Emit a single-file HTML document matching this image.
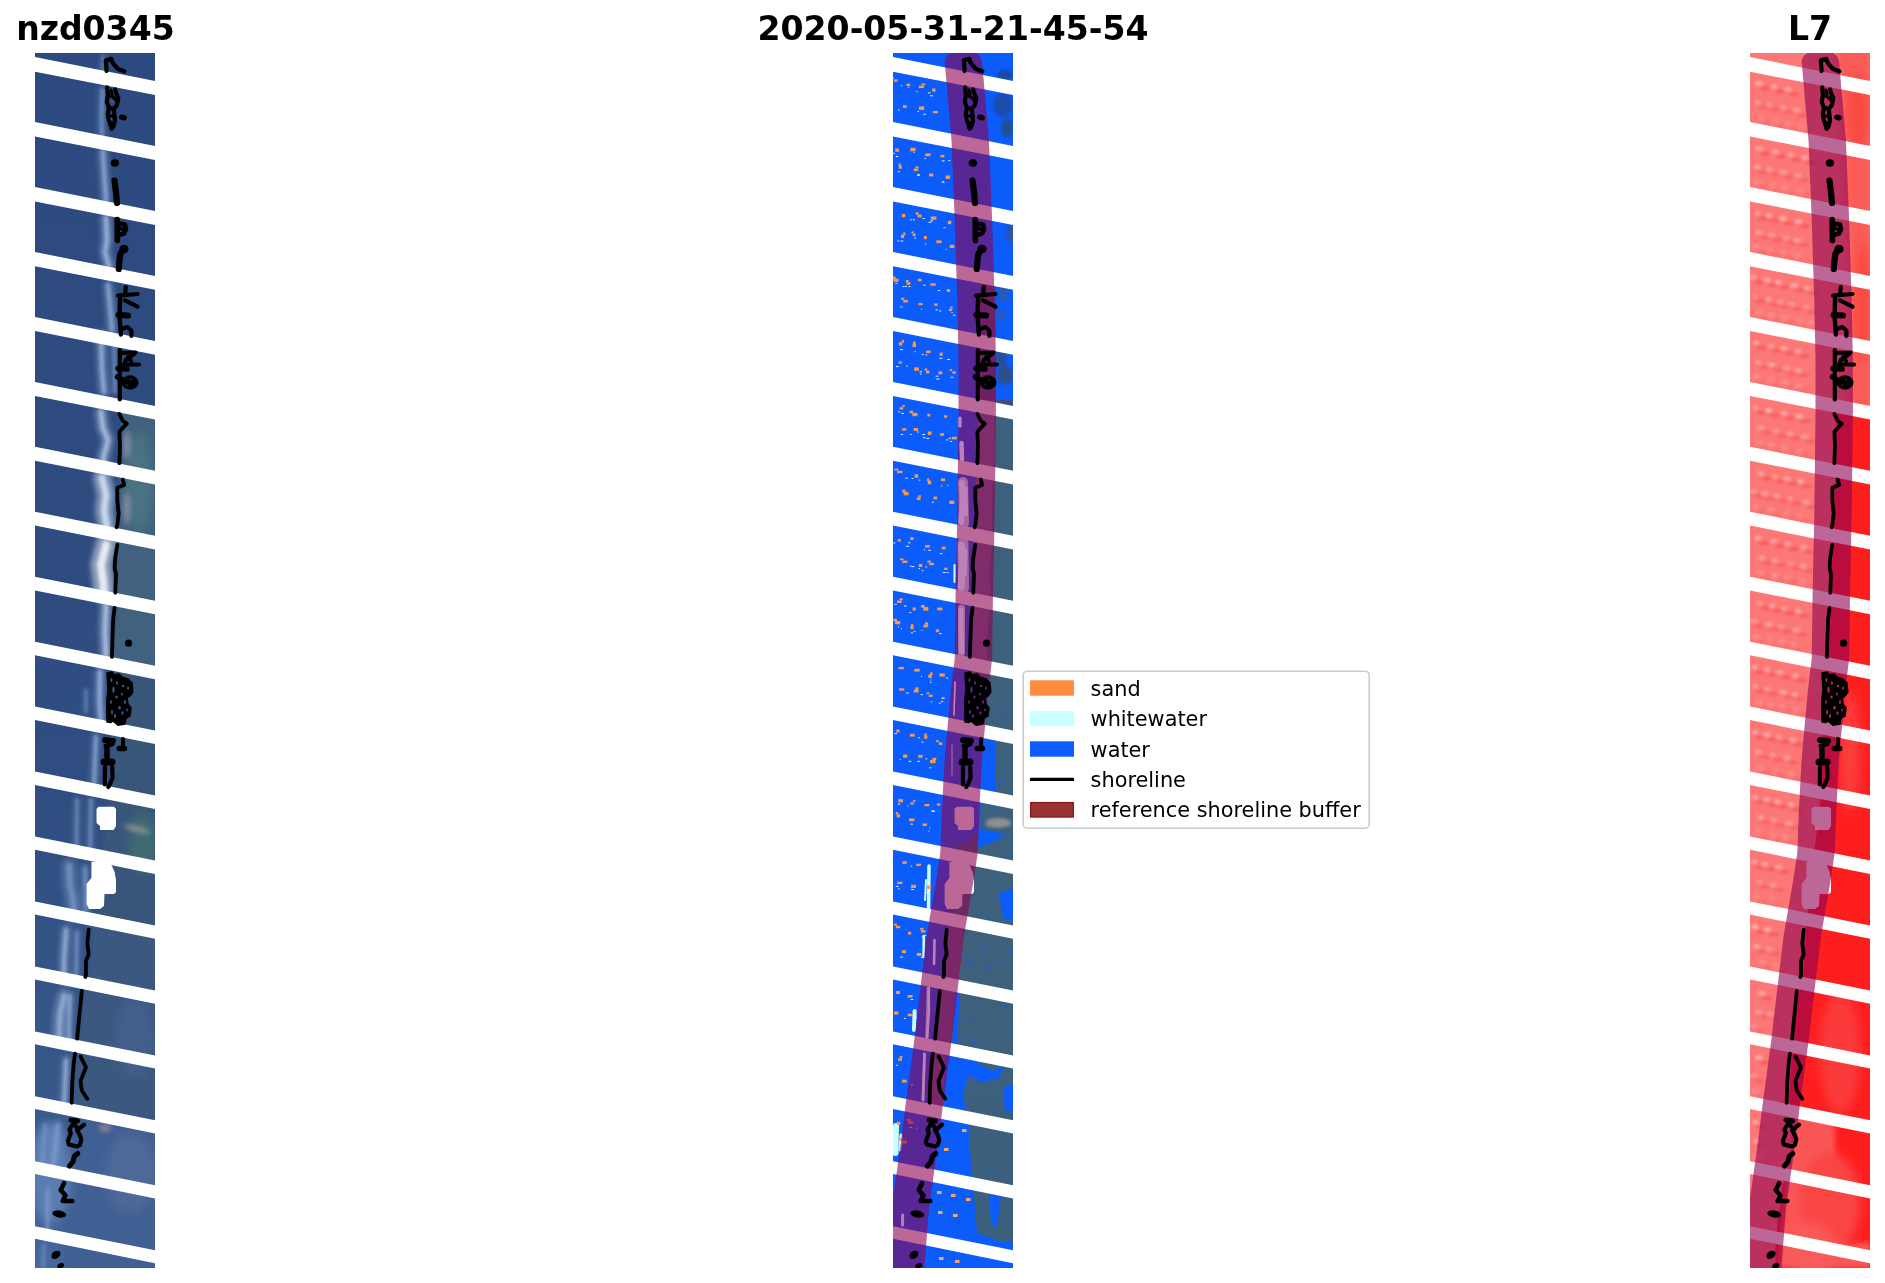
<!DOCTYPE html><html><head><meta charset="utf-8"><title>nzd0345 2020-05-31-21-45-54 L7</title><style>html,body{margin:0;padding:0;background:#fff}svg{display:block}text{font-family:"DejaVu Sans","Liberation Sans",sans-serif}</style></head><body>
<svg width="1885" height="1283" viewBox="0 0 1885 1283">
<defs><clipPath id="box"><rect x="0" y="0" width="120" height="1215"/></clipPath>
<filter id="b1" x="-50%" y="-5%" width="200%" height="110%"><feGaussianBlur stdDeviation="1.4"/></filter>
<filter id="b2" x="-50%" y="-5%" width="200%" height="110%"><feGaussianBlur stdDeviation="2.5"/></filter>
<filter id="b3" x="-20%" y="-20%" width="140%" height="140%"><feGaussianBlur stdDeviation="5"/></filter>
<g id="gaps" fill="#fff"><polygon points="0,4.1 120,28.1 120,42.1 0,18.8"/><polygon points="0,69.0 120,93.0 120,107.0 0,83.6"/><polygon points="0,134.0 120,158.0 120,171.9 0,148.5"/><polygon points="0,199.0 120,223.0 120,236.8 0,213.3"/><polygon points="0,263.9 120,287.9 120,301.7 0,278.1"/><polygon points="0,328.9 120,352.9 120,366.6 0,342.9"/><polygon points="0,393.8 120,417.8 120,431.5 0,407.8"/><polygon points="0,458.8 120,482.8 120,496.4 0,472.6"/><polygon points="0,523.7 120,547.7 120,561.3 0,537.4"/><polygon points="0,588.7 120,612.7 120,626.2 0,602.3"/><polygon points="0,653.6 120,677.6 120,691.1 0,667.1"/><polygon points="0,718.6 120,742.6 120,756.0 0,731.9"/><polygon points="0,783.5 120,807.5 120,820.9 0,796.8"/><polygon points="0,848.5 120,872.5 120,885.8 0,861.6"/><polygon points="0,913.4 120,937.4 120,950.7 0,926.4"/><polygon points="0,978.4 120,1002.4 120,1015.6 0,991.3"/><polygon points="0,1043.3 120,1067.3 120,1080.5 0,1056.1"/><polygon points="0,1108.2 120,1132.2 120,1145.4 0,1120.9"/><polygon points="0,1173.2 120,1197.2 120,1210.3 0,1185.7"/></g>
<g id="holes" fill="#fff"><path d="M63.5,753.8 L79.0,753.8 L81.0,756.0 L81.0,773.0 L78.5,777.0 L65.0,777.0 L65.0,773.0 L61.5,770.0 L61.5,756.0Z"/><path d="M56.4,809.0 L73.0,809.0 L77.0,813.0 L79.6,819.0 L81.0,827.0 L81.0,839.0 L79.0,841.0 L69.5,841.0 L69.0,853.0 L65.0,856.0 L54.0,856.0 L51.6,851.0 L51.6,831.0 L54.0,828.0 L56.4,825.0Z"/></g>
<g id="shore" stroke="#000" stroke-linecap="round" stroke-linejoin="round" fill="none"><path d="M71.6,18.0 L70.8,7.2 L76.5,5.9" stroke-width="4.2"/><path d="M75.8,6.5 L79.0,11.5 L83.0,16.0 L89.3,18.3" stroke-width="4.2"/><path d="M72.2,34.4 L72.9,42.0 L71.8,49.0 L74.0,54.7 L72.8,61.0 L74.0,67.3 L76.7,75.5" stroke-width="4.2"/><path d="M80.2,36.5 L81.0,40.0 L83.3,44.9 L82.0,51.9 L78.8,56.0 L79.5,63.0 L80.0,67.3 L78.5,73.6 L76.7,75.5" stroke-width="4.2"/><path d="M73.0,42.0 L78.0,44.0 L82.0,48.0" stroke-width="3.5"/><path d="M74.0,54.7 L78.8,56.0" stroke-width="4.0"/><path d="M73.5,64.0 L79.5,63.0" stroke-width="4.0"/><path d="M75.0,70.0 L78.5,71.0" stroke-width="4.0"/><path d="M76.0,37.0 L77.0,41.0" stroke-width="3.0"/><path d="M79.5,127.5 L81.0,139.0 L82.0,150.0" stroke-width="6.2"/><path d="M82.2,166.5 L82.4,187.5" stroke-width="5.6"/><path d="M84.0,170.5 L90.0,171.5 L91.0,176.0 L89.0,180.5 L84.0,182.0" stroke-width="4.6"/><path d="M85.0,175.0 L88.0,176.5" stroke-width="3.5"/><path d="M89.0,195.5 L85.3,201.0 L84.3,209.0 L83.8,216.0" stroke-width="6.2"/><path d="M90.8,234.0 L90.0,241.5" stroke-width="4.2"/><path d="M83.0,242.6 L102.5,241.0" stroke-width="4.2"/><path d="M85.2,243.0 L84.5,262.0 L85.9,281.5" stroke-width="4.4"/><path d="M90.0,247.3 L102.5,253.7" stroke-width="4.2"/><path d="M83.5,262.0 L93.0,262.5" stroke-width="6.0"/><path d="M85.9,276.5 L92.2,274.0 L96.4,277.5 L96.4,283.0" stroke-width="4.2"/><path d="M84.8,297.0 L84.8,346.5" stroke-width="4.2"/><path d="M87.0,300.0 L100.5,299.5" stroke-width="4.2"/><path d="M99.0,301.0 L91.0,307.0 L89.0,311.5 L104.0,311.5" stroke-width="4.2"/><path d="M93.0,304.0 L96.0,308.0" stroke-width="4.0"/><path d="M83.0,315.5 L92.0,316.0" stroke-width="5.5"/><path d="M82.5,324.0 L89.0,328.0" stroke-width="5.5"/><path d="M84.4,361.0 L87.8,368.0 L91.9,370.7 L87.8,374.8 L84.4,378.9 L85.0,392.5 L84.4,410.2" stroke-width="3.8"/><path d="M87.8,426.6 L89.1,432.0 L82.3,434.8 L82.3,447.0 L83.7,460.7 L82.3,472.0 L81.6,474.3" stroke-width="3.8"/><path d="M82.3,492.0 L80.3,504.3 L79.6,515.2 L81.0,520.7 L80.3,539.8" stroke-width="3.8"/><path d="M79.6,554.8 L78.2,565.7 L77.5,583.4 L76.9,603.9" stroke-width="3.8"/><path d="M70.0,687.0 L78.0,688.0" stroke-width="6.0"/><path d="M71.0,693.0 L77.0,691.0" stroke-width="5.0"/><path d="M72.0,696.0 L72.0,704.0" stroke-width="5.5"/><path d="M69.0,709.0 L77.0,709.0" stroke-width="7.0"/><path d="M70.0,714.0 L69.8,731.5" stroke-width="4.2"/><path d="M77.2,714.0 L77.6,725.0 L75.0,731.0 L73.3,734.0" stroke-width="4.2"/><path d="M88.0,686.0 L88.0,693.0" stroke-width="4.0"/><path d="M84.3,695.5 L89.5,695.5" stroke-width="5.5"/><path d="M53.7,876.6 L52.3,890.2 L53.7,901.2 L51.0,908.0 L51.0,922.0 L50.3,924.0" stroke-width="3.8"/><path d="M46.8,938.0 L45.5,951.6 L44.1,965.2 L42.1,985.7" stroke-width="3.8"/><path d="M40.0,1000.7 L38.7,1010.2 L37.3,1029.3 L36.6,1049.8" stroke-width="3.8"/><path d="M45.5,1003.4 L51.0,1014.3 L45.5,1028.0 L46.8,1037.5 L52.3,1045.7" stroke-width="3.8"/><path d="M36.0,1067.0 L42.5,1068.0" stroke-width="5.0"/><path d="M49.1,1071.7 L42.1,1077.3 L44.9,1082.2 L46.3,1086.5 L44.9,1092.0 L42.1,1093.5 L33.7,1091.4 L33.0,1087.9 L35.8,1080.1 L34.4,1076.6 L37.9,1071.0" stroke-width="4.2"/><path d="M39.5,1071.5 L43.5,1076.5" stroke-width="4.0"/><path d="M42.8,1100.5 L39.3,1103.3 L37.9,1108.9 L34.4,1113.1" stroke-width="5.0"/><path d="M29.1,1130.2 L25.7,1137.0 L30.5,1142.5 L27.7,1148.0 L37.3,1148.0" stroke-width="4.6"/><ellipse cx="79.9" cy="110.0" rx="4.2" ry="3.8" transform="rotate(0 79.9 110.0)" fill="#000" stroke="none"/><ellipse cx="93.5" cy="590.2" rx="3.6" ry="3.6" transform="rotate(0 93.5 590.2)" fill="#000" stroke="none"/><ellipse cx="88.0" cy="64.5" rx="4.0" ry="2.8" transform="rotate(15 88.0 64.5)" fill="#000" stroke="none"/><ellipse cx="89.0" cy="196.0" rx="4.6" ry="4.2" transform="rotate(0 89.0 196.0)" fill="#000" stroke="none"/><ellipse cx="95.0" cy="329.5" rx="8.5" ry="7.2" transform="rotate(0 95.0 329.5)" fill="#000" stroke="none"/><path d="M72.0,620.0 L77.0,619.0 L79.0,622.0 L84.0,621.0 L87.0,624.0 L93.0,626.0 L97.0,630.0 L97.8,639.0 L95.0,643.0 L92.0,645.0 L93.0,651.0 L96.0,655.0 L95.0,663.0 L91.0,665.0 L90.0,671.0 L83.0,672.2 L78.0,668.0 L76.0,669.5 L72.0,669.0 L71.8,647.0 L73.0,637.0Z" fill="#000" stroke="#000" stroke-width="1.5"/><ellipse cx="24.3" cy="1161.0" rx="7.0" ry="3.5" transform="rotate(10 24.3 1161.0)" fill="#000" stroke="none"/><ellipse cx="21.0" cy="1201.8" rx="5.0" ry="3.6" transform="rotate(-35 21.0 1201.8)" fill="#000" stroke="none"/><ellipse cx="25.7" cy="1212.8" rx="3.6" ry="2.6" transform="rotate(-30 25.7 1212.8)" fill="#000" stroke="none"/></g>
<path id="buf" d="M51.6,8.0 L53.6,3.0 L57.6,0.0 L83.0,0.0 L87.0,3.0 L89.0,8.0 L95.9,87.0 L98.9,161.0 L101.5,242.0 L102.9,306.0 L102.9,362.0 L101.7,461.0 L100.0,542.0 L99.1,606.0 L95.2,638.0 L89.0,706.0 L86.2,760.0 L84.7,800.0 L80.3,829.0 L71.0,883.0 L66.9,917.0 L58.7,987.0 L49.9,1052.0 L45.5,1088.0 L35.9,1156.0 L31.5,1214.0 L31.5,1216.0 L-5.9,1216.0 L-5.9,1214.0 L-1.5,1156.0 L8.1,1088.0 L12.5,1052.0 L21.3,987.0 L29.5,917.0 L33.6,883.0 L42.9,829.0 L47.3,800.0 L48.8,760.0 L51.6,706.0 L57.8,638.0 L61.7,606.0 L62.6,542.0 L64.3,461.0 L65.5,362.0 L65.5,306.0 L64.1,242.0 L61.5,161.0 L58.5,87.0Z" fill="#8e0152" fill-opacity="0.6"/>
</defs>
<rect width="1885" height="1283" fill="#fff"/>
<g transform="translate(35,53)" clip-path="url(#box)"><rect width="120" height="1215" fill="#2e4c80"/><linearGradient id="g1" x1="0" y1="0" x2="0" y2="1"><stop offset="0" stop-color="#2c4a7f"/><stop offset="0.6" stop-color="#2f4d80"/><stop offset="0.86" stop-color="#38588a"/><stop offset="1" stop-color="#44669c"/></linearGradient><rect width="120" height="1215" fill="url(#g1)"/><g filter="url(#b1)"><path d="M86.4,353.4 L86.4,363.4 L86.4,373.4 L86.4,383.4 L86.4,393.4 L86.4,403.4 L86.1,413.4 L85.3,423.4 L84.4,433.4 L84.2,443.4 L84.2,453.4 L84.1,463.4 L84.0,473.4 L84.0,483.4 L83.9,493.4 L82.8,503.4 L81.8,513.4 L81.8,523.4 L82.1,533.4 L82.1,543.4 L81.4,553.4 L80.8,563.4 L80.1,573.4 L79.5,583.4 L79.3,593.4 L79.0,603.4 L78.2,611.5 L121.0,620.1 L121.0,360.3Z" fill="#40627f"/><path d="M82.1,612.3 L81.0,622.3 L80.8,632.3 L80.6,642.3 L80.4,652.3 L80.2,662.3 L79.9,672.3 L76.6,682.3 L76.0,692.3 L76.0,702.3 L76.0,712.3 L76.0,722.3 L76.0,732.3 L75.0,742.3 L73.9,752.3 L72.7,762.3 L71.5,772.3 L70.3,782.3 L69.1,792.3 L67.9,802.3 L66.7,812.3 L65.7,822.3 L64.6,832.3 L63.5,842.3 L62.4,852.3 L61.3,862.3 L60.7,867.8 L121.0,879.9 L121.0,620.1Z" fill="#37567a"/><path d="M58.7,867.4 L57.7,877.4 L57.1,887.4 L56.5,897.4 L55.9,907.4 L55.3,917.4 L53.6,927.4 L50.9,937.4 L49.8,947.4 L48.8,957.4 L47.8,967.4 L46.8,977.4 L45.7,987.4 L44.4,997.4 L43.6,1007.4 L42.9,1017.4 L42.2,1027.4 L41.5,1037.4 L40.8,1047.4 L42.1,1057.4 L42.4,1059.0 L121.0,1074.7 L121.0,879.9Z" fill="#3b5880"/><path d="M44.5,1059.4 L46.0,1069.4 L46.0,1079.4 L46.0,1089.4 L46.0,1099.4 L46.0,1109.4 L42.2,1119.4 L36.4,1129.4 L36.0,1139.4 L35.6,1149.4 L32.5,1159.4 L31.4,1169.4 L30.7,1179.4 L29.9,1189.4 L29.2,1199.4 L30.1,1209.4 L31.0,1219.4 L31.0,1220.0 L121.0,1324.2 L121.0,1074.7Z" fill="#3f5e93"/></g><g filter="url(#b3)"><ellipse cx="104" cy="430" rx="14" ry="50" fill="#4a7283"/><ellipse cx="108" cy="790" rx="14" ry="30" fill="#3f6a72"/><ellipse cx="100" cy="985" rx="20" ry="40" fill="#425f8c"/><ellipse cx="96" cy="1120" rx="26" ry="40" fill="#4d6998"/><ellipse cx="15" cy="1120" rx="22" ry="50" fill="#5a7cb0"/></g><g filter="url(#b2)" fill="#8d8fa6" opacity=".8"><ellipse cx="92" cy="392" rx="4" ry="14"/><ellipse cx="92" cy="455" rx="4" ry="16"/><ellipse cx="102" cy="776" rx="14" ry="3" transform="rotate(15 102 776)" fill="#9c9c96"/><ellipse cx="70" cy="1075" rx="6" ry="4" fill="#a08a98"/></g><g filter="url(#b2)" fill="none" stroke-linecap="round" stroke-linejoin="round"><path d="M68.0,3.0 L67.0,22.0" stroke="#6c8fc2" stroke-width="6.0" opacity="0.35"/><path d="M67.5,37.0 L66.5,62.0 L67.0,82.0" stroke="#7d9fd0" stroke-width="8.0" opacity="0.40"/><path d="M68.0,99.0 L69.0,117.0 L71.0,147.0" stroke="#90aedc" stroke-width="10.0" opacity="0.45"/><path d="M71.0,165.0 L72.0,187.0 L70.0,199.0 L74.0,213.0" stroke="#a3bce2" stroke-width="11.0" opacity="0.45"/><path d="M73.0,232.0 L75.0,252.0 L77.0,277.0" stroke="#8eabd8" stroke-width="10.0" opacity="0.45"/><path d="M66.0,282.0 L67.0,317.0 L69.0,339.0" stroke="#9db7de" stroke-width="10.0" opacity="0.45"/><path d="M79.0,285.0 L80.0,339.0" stroke="#7f9fcd" stroke-width="6.0" opacity="0.40"/><path d="M66.0,359.0 L68.0,375.0 L73.0,387.0 L69.0,402.0 L68.0,409.0" stroke="#b4c7e6" stroke-width="12.0" opacity="0.45"/><path d="M67.0,425.0 L71.0,442.0 L69.0,457.0 L72.0,475.0" stroke="#d4dff2" stroke-width="18.0" opacity="0.50"/><path d="M71.0,492.0 L66.0,512.0 L68.0,527.0 L69.0,539.0" stroke="#f2f5fb" stroke-width="21.0" opacity="0.50"/><path d="M71.0,553.0 L70.0,577.0 L71.0,602.0" stroke="#b7c9e7" stroke-width="12.0" opacity="0.45"/><path d="M65.0,619.0 L64.5,647.0 L66.0,669.0" stroke="#9fb8e0" stroke-width="10.0" opacity="0.45"/><path d="M51.0,637.0 L51.0,659.0" stroke="#7f9fcd" stroke-width="5.0" opacity="0.35"/><path d="M61.0,684.0 L60.0,707.0 L59.0,732.0" stroke="#8eabd8" stroke-width="8.0" opacity="0.45"/><path d="M42.0,747.0 L41.5,797.0" stroke="#7f9fcd" stroke-width="7.0" opacity="0.35"/><path d="M56.0,747.0 L55.0,797.0" stroke="#86a4d2" stroke-width="7.0" opacity="0.35"/><path d="M34.0,813.0 L35.0,832.0 L38.0,847.0 L39.0,862.0" stroke="#86a4d6" stroke-width="16.0" opacity="0.33"/><path d="M50.0,815.0 L51.0,857.0" stroke="#7f9fcd" stroke-width="8.0" opacity="0.40"/><path d="M31.0,877.0 L29.0,907.0 L29.0,927.0" stroke="#a9c0e6" stroke-width="10.0" opacity="0.38"/><path d="M42.0,879.0 L41.0,925.0" stroke="#86a4d2" stroke-width="6.0" opacity="0.40"/><path d="M29.0,943.0 L25.0,962.0 L24.0,987.0" stroke="#a3bce2" stroke-width="14.0" opacity="0.38"/><path d="M35.0,943.0 L34.0,977.0 L35.0,992.0" stroke="#9db7de" stroke-width="7.0" opacity="0.40"/><path d="M31.0,1007.0 L30.0,1032.0 L29.0,1055.0" stroke="#9db7de" stroke-width="8.0" opacity="0.45"/><path d="M23.0,1072.0 L20.0,1097.0 L17.0,1117.0" stroke="#86a4d2" stroke-width="10.0" opacity="0.35"/><path d="M10.0,1072.0 L7.0,1112.0" stroke="#7c9cd0" stroke-width="8.0" opacity="0.30"/><path d="M13.0,1137.0 L12.0,1182.0" stroke="#86a4d2" stroke-width="6.0" opacity="0.35"/><path d="M9.0,1192.0 L8.0,1214.0" stroke="#7c9cd0" stroke-width="6.0" opacity="0.30"/></g><g filter="url(#b1)" fill="none" stroke-linecap="round" stroke-linejoin="round"><path d="M68.0,3.0 L67.0,22.0" stroke="#6c8fc2" stroke-width="2.2" opacity="0.59"/><path d="M67.5,37.0 L66.5,62.0 L67.0,82.0" stroke="#7d9fd0" stroke-width="3.0" opacity="0.68"/><path d="M68.0,99.0 L69.0,117.0 L71.0,147.0" stroke="#90aedc" stroke-width="3.8" opacity="0.77"/><path d="M71.0,165.0 L72.0,187.0 L70.0,199.0 L74.0,213.0" stroke="#a3bce2" stroke-width="4.1" opacity="0.77"/><path d="M73.0,232.0 L75.0,252.0 L77.0,277.0" stroke="#8eabd8" stroke-width="3.8" opacity="0.77"/><path d="M66.0,282.0 L67.0,317.0 L69.0,339.0" stroke="#9db7de" stroke-width="3.8" opacity="0.77"/><path d="M79.0,285.0 L80.0,339.0" stroke="#7f9fcd" stroke-width="2.2" opacity="0.68"/><path d="M66.0,359.0 L68.0,375.0 L73.0,387.0 L69.0,402.0 L68.0,409.0" stroke="#b4c7e6" stroke-width="4.5" opacity="0.77"/><path d="M67.0,425.0 L71.0,442.0 L69.0,457.0 L72.0,475.0" stroke="#d4dff2" stroke-width="6.8" opacity="0.85"/><path d="M71.0,492.0 L66.0,512.0 L68.0,527.0 L69.0,539.0" stroke="#f2f5fb" stroke-width="7.9" opacity="0.85"/><path d="M71.0,553.0 L70.0,577.0 L71.0,602.0" stroke="#b7c9e7" stroke-width="4.5" opacity="0.77"/><path d="M65.0,619.0 L64.5,647.0 L66.0,669.0" stroke="#9fb8e0" stroke-width="3.8" opacity="0.77"/><path d="M51.0,637.0 L51.0,659.0" stroke="#7f9fcd" stroke-width="1.9" opacity="0.59"/><path d="M61.0,684.0 L60.0,707.0 L59.0,732.0" stroke="#8eabd8" stroke-width="3.0" opacity="0.77"/><path d="M42.0,747.0 L41.5,797.0" stroke="#7f9fcd" stroke-width="2.6" opacity="0.59"/><path d="M56.0,747.0 L55.0,797.0" stroke="#86a4d2" stroke-width="2.6" opacity="0.59"/><path d="M34.0,813.0 L35.0,832.0 L38.0,847.0 L39.0,862.0" stroke="#86a4d6" stroke-width="6.0" opacity="0.55"/><path d="M50.0,815.0 L51.0,857.0" stroke="#7f9fcd" stroke-width="3.0" opacity="0.68"/><path d="M31.0,877.0 L29.0,907.0 L29.0,927.0" stroke="#a9c0e6" stroke-width="3.8" opacity="0.64"/><path d="M42.0,879.0 L41.0,925.0" stroke="#86a4d2" stroke-width="2.2" opacity="0.68"/><path d="M29.0,943.0 L25.0,962.0 L24.0,987.0" stroke="#a3bce2" stroke-width="5.2" opacity="0.64"/><path d="M35.0,943.0 L34.0,977.0 L35.0,992.0" stroke="#9db7de" stroke-width="2.6" opacity="0.68"/><path d="M31.0,1007.0 L30.0,1032.0 L29.0,1055.0" stroke="#9db7de" stroke-width="3.0" opacity="0.77"/><path d="M23.0,1072.0 L20.0,1097.0 L17.0,1117.0" stroke="#86a4d2" stroke-width="3.8" opacity="0.59"/><path d="M10.0,1072.0 L7.0,1112.0" stroke="#7c9cd0" stroke-width="3.0" opacity="0.51"/><path d="M13.0,1137.0 L12.0,1182.0" stroke="#86a4d2" stroke-width="2.2" opacity="0.59"/><path d="M9.0,1192.0 L8.0,1214.0" stroke="#7c9cd0" stroke-width="2.2" opacity="0.51"/></g><use href="#holes"/><use href="#gaps"/><use href="#shore"/><ellipse cx="78.5" cy="637.0" rx="1.1" ry="3.2" transform="rotate(0 78.5 637.0)" fill="#3b5e92" stroke="none"/><ellipse cx="84.5" cy="654.7" rx="1.3" ry="1.8" transform="rotate(0 84.5 654.7)" fill="#3b5e92" stroke="none"/><ellipse cx="77.0" cy="659.0" rx="0.9" ry="2.6" transform="rotate(0 77.0 659.0)" fill="#3b5e92" stroke="none"/><ellipse cx="88.0" cy="633.0" rx="1.2" ry="1.2" transform="rotate(0 88.0 633.0)" fill="#3b5e92" stroke="none"/><ellipse cx="90.0" cy="649.0" rx="1.0" ry="2.0" transform="rotate(0 90.0 649.0)" fill="#3b5e92" stroke="none"/><ellipse cx="76.5" cy="627.0" rx="0.9" ry="2.2" transform="rotate(0 76.5 627.0)" fill="#3b5e92" stroke="none"/><ellipse cx="82.0" cy="630.0" rx="1.0" ry="1.8" transform="rotate(0 82.0 630.0)" fill="#3b5e92" stroke="none"/><ellipse cx="93.0" cy="635.0" rx="1.0" ry="1.6" transform="rotate(0 93.0 635.0)" fill="#3b5e92" stroke="none"/><ellipse cx="81.5" cy="644.0" rx="1.2" ry="1.6" transform="rotate(0 81.5 644.0)" fill="#3b5e92" stroke="none"/><ellipse cx="87.0" cy="641.0" rx="0.9" ry="1.5" transform="rotate(0 87.0 641.0)" fill="#3b5e92" stroke="none"/><ellipse cx="80.0" cy="663.0" rx="1.0" ry="2.0" transform="rotate(0 80.0 663.0)" fill="#3b5e92" stroke="none"/><ellipse cx="87.5" cy="660.0" rx="1.1" ry="1.8" transform="rotate(0 87.5 660.0)" fill="#3b5e92" stroke="none"/><ellipse cx="92.0" cy="657.0" rx="0.8" ry="1.4" transform="rotate(0 92.0 657.0)" fill="#3b5e92" stroke="none"/><ellipse cx="76.0" cy="649.0" rx="0.8" ry="2.0" transform="rotate(0 76.0 649.0)" fill="#3b5e92" stroke="none"/><ellipse cx="96.0" cy="326.5" rx="0.7" ry="0.7" transform="rotate(0 96.0 326.5)" fill="#3b5e92" stroke="none"/><ellipse cx="92.0" cy="332.0" rx="0.8" ry="0.6" transform="rotate(0 92.0 332.0)" fill="#3b5e92" stroke="none"/><ellipse cx="77.3" cy="48.0" rx="1.0" ry="1.6" transform="rotate(0 77.3 48.0)" fill="#3b5e92" stroke="none"/><ellipse cx="76.2" cy="65.5" rx="0.8" ry="1.2" transform="rotate(0 76.2 65.5)" fill="#3b5e92" stroke="none"/></g>
<g transform="translate(893,53)" clip-path="url(#box)"><rect width="120" height="1215" fill="#0b5cfa"/><path d="M86.4,223.5 L86.7,233.5 L86.9,243.5 L86.8,253.5 L86.4,263.5 L86.1,273.5 L85.7,283.5 L85.4,293.5 L85.4,303.5 L85.4,313.5 L85.4,323.5 L85.4,333.5 L85.4,343.5 L85.4,353.2 L121.0,360.3 L121.0,230.4Z" fill="#3f4c86"/><path d="M85.4,353.2 L85.4,363.2 L85.4,373.2 L85.4,383.2 L85.4,393.2 L85.4,403.2 L85.1,413.2 L84.3,423.2 L83.5,433.2 L83.2,443.2 L83.2,453.2 L83.1,463.2 L83.0,473.2 L83.0,483.2 L82.9,493.2 L81.8,503.2 L80.8,513.2 L80.8,523.2 L81.1,533.2 L81.1,543.2 L80.4,553.2 L79.8,563.2 L79.1,573.2 L78.5,583.2 L78.3,593.2 L78.0,603.2 L77.0,613.2 L76.0,623.2 L75.8,633.2 L75.6,643.2 L75.4,653.2 L75.2,663.2 L74.6,673.2 L71.3,683.2 L71.0,693.2 L71.0,703.2 L71.0,713.2 L71.0,723.2 L71.0,733.2 L69.9,743.2 L68.8,753.2 L67.6,763.2 L66.4,773.2 L65.2,783.2 L64.0,793.2 L62.8,803.2 L61.7,813.2 L60.6,823.2 L59.5,833.2 L58.4,843.2 L57.3,853.2 L56.2,863.2 L55.1,873.2 L54.3,883.2 L53.7,893.2 L53.1,903.2 L52.5,913.2 L51.7,923.2 L49.1,933.2 L47.3,943.2 L46.2,953.2 L45.2,963.2 L44.2,973.2 L43.2,983.2 L42.0,993.2 L40.8,1003.2 L40.2,1013.2 L39.5,1023.2 L38.8,1033.2 L38.1,1043.2 L38.2,1053.2 L39.3,1058.4 L121.0,1074.7 L121.0,360.3Z" fill="#3d617d"/><path d="M84.4,347.0 L84.4,357.0 L84.4,367.0 L84.4,377.0 L84.4,387.0 L84.4,397.0 L84.4,407.0 L83.8,417.0 L83.0,427.0 L82.3,437.0 L82.2,447.0 L82.1,457.0 L82.0,467.0 L82.0,477.0 L82.0,487.0 L81.5,497.0 L80.4,507.0 L79.7,517.0 L79.9,527.0 L80.2,537.0 L79.8,547.0 L79.2,557.0 L78.5,567.0 L77.9,577.0 L77.4,587.0 L77.2,597.0 L76.7,607.0 L76.1,612.0 L93.1,612.0 L93.7,607.0 L94.2,597.0 L94.4,587.0 L94.9,577.0 L95.5,567.0 L96.2,557.0 L96.8,547.0 L97.2,537.0 L96.9,527.0 L96.7,517.0 L97.4,507.0 L98.5,497.0 L99.0,487.0 L99.0,477.0 L99.0,467.0 L99.1,457.0 L99.2,447.0 L99.3,437.0 L100.0,427.0 L100.8,417.0 L101.4,407.0 L101.4,397.0 L101.4,387.0 L101.4,377.0 L101.4,367.0 L101.4,357.0 L101.4,347.0Z" fill="#6c6a90"/><path d="M55.1,864.0 L54.0,874.0 L53.3,884.0 L52.7,894.0 L52.1,904.0 L51.5,914.0 L50.5,924.0 L47.8,934.0 L46.2,944.0 L45.2,954.0 L44.1,964.0 L43.1,974.0 L42.1,984.0 L40.9,994.0 L39.8,1004.0 L39.1,1014.0 L38.4,1024.0 L37.7,1034.0 L37.0,1044.0 L37.4,1054.0 L38.6,1060.0 L54.6,1060.0 L53.4,1054.0 L53.0,1044.0 L53.7,1034.0 L54.4,1024.0 L55.1,1014.0 L55.8,1004.0 L56.9,994.0 L58.1,984.0 L59.1,974.0 L60.1,964.0 L61.2,954.0 L62.2,944.0 L63.8,934.0 L66.5,924.0 L67.5,914.0 L68.1,904.0 L68.7,894.0 L69.3,884.0 L70.0,874.0 L71.1,864.0Z" fill="#5d5e8a"/><path d="M72.0,1048.0 L121.0,1048.0 L121.0,1215.0 L115.0,1215.0 L112.0,1190.0 L84.0,1180.0 L80.0,1130.0 L76.0,1100.0 L72.0,1075.0Z" fill="#3d5f7e"/><path d="M103.0,180.0 L121.0,180.0 L121.0,347.0 L103.0,347.0Z" fill="#0b5cfa"/><path d="M60.0,676.0 L103.0,684.0 L102.0,740.0 L60.0,733.0Z" fill="#0b5cfa"/><path d="M50.0,738.0 L88.0,745.0 L87.0,776.0 L74.0,792.0 L50.0,788.0Z" fill="#0b5cfa"/><path d="M84.0,775.0 L112.0,781.0 L98.0,790.0 L84.0,795.0Z" fill="#0b5cfa"/><path d="M106.0,840.0 L121.0,835.0 L121.0,868.0 L110.0,866.0Z" fill="#0b5cfa"/><path d="M62.0,928.0 L67.0,929.0 L64.0,1000.0 L59.0,999.0Z" fill="#0b5cfa"/><path d="M52.0,994.0 L80.0,1000.0 L84.0,1010.0 L100.0,1018.0 L112.0,1012.0 L106.0,1025.0 L88.0,1030.0 L76.0,1022.0 L70.0,1040.0 L74.0,1062.0 L50.0,1062.0Z" fill="#0b5cfa"/><path d="M110.0,1035.0 L121.0,1030.0 L121.0,1060.0 L112.0,1058.0Z" fill="#0b5cfa"/><path d="M44.0,1062.0 L75.0,1062.0 L79.0,1130.0 L40.0,1130.0Z" fill="#0b5cfa"/><path d="M36.0,1130.0 L79.0,1130.0 L84.0,1190.0 L30.0,1190.0Z" fill="#0b5cfa"/><path d="M96.0,1140.0 L108.0,1142.0 L104.0,1175.0 L98.0,1170.0Z" fill="#0b5cfa"/><path d="M28.0,1188.0 L121.0,1188.0 L121.0,1215.0 L28.0,1215.0Z" fill="#0b5cfa"/><g filter="url(#b1)"><ellipse cx="112" cy="22" rx="8" ry="5" fill="#1f4aa0"/><ellipse cx="110" cy="52" rx="10" ry="12" fill="#1b4bb0"/><ellipse cx="114" cy="75" rx="6" ry="10" fill="#23509a"/><ellipse cx="117" cy="180" rx="4" ry="10" fill="#2a55a8"/><ellipse cx="108" cy="300" rx="6" ry="14" fill="#27509a"/><ellipse cx="112" cy="322" rx="8" ry="10" fill="#2c4f8c"/><ellipse cx="110" cy="240" rx="5" ry="10" fill="#2a58b8"/><ellipse cx="108" cy="262" rx="4" ry="6" fill="#2a58b8"/><ellipse cx="105" cy="770" rx="13" ry="5" fill="#8e8f8c"/><circle cx="92.4" cy="769.5" r="1.9" fill="#1f5be0" opacity=".7"/><circle cx="107.8" cy="669.0" r="1.5" fill="#1f5be0" opacity=".7"/><circle cx="107.3" cy="663.2" r="1.1" fill="#1f5be0" opacity=".7"/><circle cx="85.1" cy="813.5" r="1.1" fill="#1f5be0" opacity=".7"/><circle cx="111.9" cy="809.8" r="1.2" fill="#1f5be0" opacity=".7"/><circle cx="108.3" cy="729.3" r="2.3" fill="#1f5be0" opacity=".7"/><circle cx="92.9" cy="870.8" r="2.4" fill="#1f5be0" opacity=".7"/><circle cx="114.9" cy="658.6" r="1.4" fill="#1f5be0" opacity=".7"/><circle cx="95.1" cy="697.7" r="1.4" fill="#1f5be0" opacity=".7"/><circle cx="75.3" cy="966.5" r="1.8" fill="#1f5be0" opacity=".7"/><circle cx="90.8" cy="895.6" r="1.8" fill="#1f5be0" opacity=".7"/><circle cx="97.4" cy="665.1" r="1.3" fill="#1f5be0" opacity=".7"/><circle cx="92.6" cy="912.2" r="1.4" fill="#1f5be0" opacity=".7"/><circle cx="95.0" cy="874.2" r="1.4" fill="#1f5be0" opacity=".7"/><circle cx="102.6" cy="957.8" r="1.3" fill="#1f5be0" opacity=".7"/><circle cx="98.3" cy="869.8" r="2.2" fill="#1f5be0" opacity=".7"/><circle cx="84.1" cy="931.8" r="2.4" fill="#1f5be0" opacity=".7"/><circle cx="102.9" cy="687.2" r="2.1" fill="#1f5be0" opacity=".7"/><circle cx="104.7" cy="700.8" r="1.1" fill="#1f5be0" opacity=".7"/><circle cx="107.6" cy="907.3" r="1.8" fill="#1f5be0" opacity=".7"/><circle cx="80.5" cy="990.2" r="2.0" fill="#1f5be0" opacity=".7"/><circle cx="100.2" cy="877.7" r="1.6" fill="#1f5be0" opacity=".7"/><circle cx="115.1" cy="976.0" r="1.7" fill="#1f5be0" opacity=".7"/><circle cx="76.7" cy="905.7" r="2.0" fill="#1f5be0" opacity=".7"/><circle cx="117.7" cy="898.9" r="2.2" fill="#1f5be0" opacity=".7"/><circle cx="100.6" cy="753.8" r="1.9" fill="#1f5be0" opacity=".7"/><circle cx="106.4" cy="649.0" r="1.2" fill="#1f5be0" opacity=".7"/><circle cx="93.5" cy="686.8" r="2.1" fill="#1f5be0" opacity=".7"/><circle cx="98.4" cy="691.7" r="1.5" fill="#1f5be0" opacity=".7"/><circle cx="67.9" cy="988.6" r="1.6" fill="#1f5be0" opacity=".7"/><circle cx="113.3" cy="859.8" r="2.1" fill="#1f5be0" opacity=".7"/><circle cx="79.0" cy="985.6" r="1.6" fill="#1f5be0" opacity=".7"/><circle cx="114.3" cy="783.5" r="2.3" fill="#1f5be0" opacity=".7"/><circle cx="96.6" cy="700.4" r="1.3" fill="#1f5be0" opacity=".7"/><circle cx="104.6" cy="733.3" r="1.8" fill="#1f5be0" opacity=".7"/><circle cx="90.8" cy="745.1" r="1.6" fill="#1f5be0" opacity=".7"/><circle cx="104.0" cy="787.7" r="2.3" fill="#1f5be0" opacity=".7"/><circle cx="96.4" cy="916.2" r="1.9" fill="#1f5be0" opacity=".7"/><circle cx="76.1" cy="910.5" r="2.3" fill="#1f5be0" opacity=".7"/><circle cx="111.6" cy="952.0" r="2.1" fill="#1f5be0" opacity=".7"/></g><g fill="none" stroke="#c8ffff" stroke-linecap="round"><path d="M67.0,365.0 L67.0,373.0" stroke-width="3.0"/><path d="M68.5,390.0 L69.0,406.0" stroke-width="4.5"/><path d="M70.0,429.0 L71.0,470.0" stroke-width="10.0"/><path d="M70.0,490.0 L70.5,535.0" stroke-width="11.0"/><path d="M61.5,512.0 L61.5,529.0" stroke-width="2.0"/><path d="M68.5,555.0 L68.5,600.0" stroke-width="7.0"/><path d="M62.0,629.0 L61.0,662.0" stroke-width="1.5"/><path d="M59.0,692.0 L59.0,722.0" stroke-width="1.2"/><path d="M36.0,813.0 L35.5,855.0" stroke-width="3.5"/><path d="M33.0,827.0 L32.0,847.0" stroke-width="2.0"/><path d="M30.8,883.0 L30.5,904.0" stroke-width="2.5"/><path d="M41.5,887.0 L41.0,911.0" stroke-width="2.5"/><path d="M21.6,958.0 L21.0,977.0" stroke-width="4.0"/><path d="M35.5,935.0 L34.0,984.0" stroke-width="3.5"/><path d="M31.5,1001.0 L30.0,1047.0" stroke-width="3.0"/><path d="M3.0,1073.0 L2.5,1100.0" stroke-width="6.0"/><path d="M8.0,1082.0 L7.0,1097.0" stroke-width="3.0"/><path d="M9.7,1162.0 L9.5,1172.0" stroke-width="3.0"/></g><rect x="1.0" y="26.4" width="3.5" height="2.4" fill="#f99a4a"/><rect x="-1.7" y="24.2" width="2.5" height="1.9" fill="#f99a4a"/><rect x="-2.1" y="30.1" width="1.7" height="1" fill="#d8f4ff"/><rect x="8.0" y="32.1" width="1.3" height="1" fill="#d8f4ff"/><rect x="13.3" y="30.7" width="3.9" height="2.4" fill="#f99a4a"/><rect x="15.0" y="34.2" width="1.2" height="1" fill="#d8f4ff"/><rect x="25.8" y="32.7" width="5.1" height="2.4" fill="#f99a4a"/><rect x="28.5" y="30.5" width="3.6" height="1.9" fill="#f99a4a"/><rect x="23.4" y="38.1" width="1.1" height="1" fill="#d8f4ff"/><rect x="35.0" y="39.4" width="2.4" height="1" fill="#d8f4ff"/><rect x="39.2" y="35.5" width="3.4" height="3.2" fill="#f99a4a"/><rect x="37.0" y="42.3" width="3.0" height="1" fill="#d8f4ff"/><rect x="10.0" y="52.1" width="3.6" height="2.9" fill="#f99a4a"/><rect x="5.2" y="56.6" width="1.5" height="1" fill="#d8f4ff"/><rect x="25.9" y="53.4" width="5.3" height="3.5" fill="#f99a4a"/><rect x="24.6" y="58.0" width="1.4" height="1" fill="#d8f4ff"/><rect x="30.3" y="60.7" width="2.7" height="1" fill="#d8f4ff"/><rect x="39.9" y="57.9" width="5.0" height="2.3" fill="#f99a4a"/><rect x="2.2" y="95.6" width="3.8" height="3.2" fill="#f99a4a"/><rect x="2.8" y="103.0" width="2.4" height="1" fill="#d8f4ff"/><rect x="-1.1" y="99.8" width="2.8" height="1" fill="#d8f4ff"/><rect x="17.4" y="94.8" width="5.1" height="3.5" fill="#f99a4a"/><rect x="20.7" y="99.0" width="1.0" height="1" fill="#d8f4ff"/><rect x="32.2" y="100.4" width="5.3" height="2.8" fill="#f99a4a"/><rect x="31.4" y="105.0" width="1.5" height="1" fill="#d8f4ff"/><rect x="47.4" y="101.9" width="4.0" height="2.4" fill="#f99a4a"/><rect x="48.8" y="107.4" width="2.8" height="1" fill="#d8f4ff"/><rect x="55.2" y="107.1" width="2.1" height="1" fill="#d8f4ff"/><rect x="5.8" y="112.6" width="3.0" height="3.2" fill="#f99a4a"/><rect x="5.6" y="110.4" width="2.1" height="2.6" fill="#f99a4a"/><rect x="4.8" y="118.3" width="2.1" height="1" fill="#d8f4ff"/><rect x="20.8" y="115.6" width="4.4" height="2.5" fill="#f99a4a"/><rect x="22.4" y="113.4" width="3.1" height="2.0" fill="#f99a4a"/><rect x="23.9" y="121.9" width="2.8" height="1" fill="#d8f4ff"/><rect x="24.6" y="120.9" width="2.0" height="1" fill="#d8f4ff"/><rect x="36.0" y="120.6" width="4.3" height="2.8" fill="#f99a4a"/><rect x="52.6" y="122.5" width="4.4" height="3.4" fill="#f99a4a"/><rect x="49.5" y="127.9" width="1.1" height="1" fill="#d8f4ff"/><rect x="48.8" y="128.8" width="2.6" height="1" fill="#d8f4ff"/><rect x="8.9" y="161.0" width="3.4" height="3.3" fill="#f99a4a"/><rect x="16.9" y="166.3" width="2.0" height="1" fill="#d8f4ff"/><rect x="24.5" y="161.5" width="4.1" height="2.9" fill="#f99a4a"/><rect x="22.7" y="159.3" width="2.9" height="2.3" fill="#f99a4a"/><rect x="29.7" y="165.0" width="2.1" height="1" fill="#d8f4ff"/><rect x="19.8" y="166.2" width="2.2" height="1" fill="#d8f4ff"/><rect x="37.9" y="163.5" width="5.5" height="3.2" fill="#f99a4a"/><rect x="37.4" y="167.3" width="2.6" height="1" fill="#d8f4ff"/><rect x="35.5" y="168.8" width="2.8" height="1" fill="#d8f4ff"/><rect x="54.9" y="167.8" width="3.4" height="3.4" fill="#f99a4a"/><rect x="50.4" y="174.2" width="1.9" height="1" fill="#d8f4ff"/><rect x="8.0" y="181.7" width="3.2" height="3.3" fill="#f99a4a"/><rect x="10.2" y="179.5" width="2.2" height="2.7" fill="#f99a4a"/><rect x="7.4" y="187.5" width="2.9" height="1" fill="#d8f4ff"/><rect x="4.4" y="187.4" width="1.5" height="1" fill="#d8f4ff"/><rect x="19.7" y="180.6" width="3.1" height="2.5" fill="#f99a4a"/><rect x="18.5" y="178.4" width="2.2" height="2.0" fill="#f99a4a"/><rect x="21.3" y="184.5" width="1.7" height="1" fill="#d8f4ff"/><rect x="30.9" y="183.0" width="3.0" height="3.2" fill="#f99a4a"/><rect x="32.0" y="190.3" width="1.2" height="1" fill="#d8f4ff"/><rect x="43.4" y="187.4" width="5.1" height="2.7" fill="#f99a4a"/><rect x="56.6" y="191.9" width="4.8" height="3.0" fill="#f99a4a"/><rect x="52.8" y="195.9" width="1.1" height="1" fill="#d8f4ff"/><rect x="0.4" y="225.7" width="5.2" height="3.1" fill="#f99a4a"/><rect x="-1.1" y="223.5" width="3.6" height="2.5" fill="#f99a4a"/><rect x="2.4" y="229.8" width="1.9" height="1" fill="#d8f4ff"/><rect x="9.5" y="233.1" width="2.1" height="1" fill="#d8f4ff"/><rect x="13.6" y="229.1" width="3.8" height="2.7" fill="#f99a4a"/><rect x="12.9" y="226.9" width="2.6" height="2.1" fill="#f99a4a"/><rect x="15.5" y="233.2" width="2.0" height="1" fill="#d8f4ff"/><rect x="12.2" y="232.8" width="1.8" height="1" fill="#d8f4ff"/><rect x="24.9" y="225.8" width="3.8" height="2.5" fill="#f99a4a"/><rect x="30.2" y="231.7" width="2.4" height="1" fill="#d8f4ff"/><rect x="37.3" y="230.3" width="5.5" height="2.4" fill="#f99a4a"/><rect x="44.8" y="237.1" width="2.3" height="1" fill="#d8f4ff"/><rect x="53.8" y="236.1" width="3.3" height="2.9" fill="#f99a4a"/><rect x="10.3" y="246.9" width="4.7" height="2.5" fill="#f99a4a"/><rect x="8.1" y="244.7" width="3.3" height="2.0" fill="#f99a4a"/><rect x="7.2" y="253.5" width="2.1" height="1" fill="#d8f4ff"/><rect x="25.4" y="250.0" width="4.2" height="2.2" fill="#f99a4a"/><rect x="28.0" y="255.8" width="1.1" height="1" fill="#d8f4ff"/><rect x="41.3" y="250.4" width="3.2" height="2.5" fill="#f99a4a"/><rect x="46.2" y="257.5" width="2.0" height="1" fill="#d8f4ff"/><rect x="42.6" y="256.4" width="2.5" height="1" fill="#d8f4ff"/><rect x="56.0" y="255.7" width="3.2" height="2.4" fill="#f99a4a"/><rect x="57.5" y="253.5" width="2.2" height="1.9" fill="#f99a4a"/><rect x="58.5" y="259.0" width="1.1" height="1" fill="#d8f4ff"/><rect x="60.0" y="261.7" width="2.4" height="1" fill="#d8f4ff"/><rect x="5.9" y="289.1" width="3.3" height="3.4" fill="#f99a4a"/><rect x="8.8" y="286.9" width="2.3" height="2.7" fill="#f99a4a"/><rect x="7.0" y="296.1" width="2.9" height="1" fill="#d8f4ff"/><rect x="19.5" y="290.7" width="3.5" height="3.4" fill="#f99a4a"/><rect x="20.0" y="288.5" width="2.5" height="2.7" fill="#f99a4a"/><rect x="21.6" y="298.2" width="1.3" height="1" fill="#d8f4ff"/><rect x="32.9" y="297.6" width="4.8" height="2.5" fill="#f99a4a"/><rect x="28.7" y="300.9" width="2.0" height="1" fill="#d8f4ff"/><rect x="32.6" y="301.4" width="1.7" height="1" fill="#d8f4ff"/><rect x="46.7" y="299.6" width="3.0" height="3.2" fill="#f99a4a"/><rect x="54.2" y="306.0" width="2.8" height="1" fill="#d8f4ff"/><rect x="46.4" y="304.8" width="3.0" height="1" fill="#d8f4ff"/><rect x="5.6" y="308.4" width="3.1" height="2.3" fill="#f99a4a"/><rect x="13.2" y="312.6" width="1.5" height="1" fill="#d8f4ff"/><rect x="2.8" y="313.1" width="2.9" height="1" fill="#d8f4ff"/><rect x="21.2" y="314.4" width="4.6" height="3.4" fill="#f99a4a"/><rect x="26.5" y="318.3" width="2.5" height="1" fill="#d8f4ff"/><rect x="27.0" y="320.6" width="1.6" height="1" fill="#d8f4ff"/><rect x="33.1" y="317.6" width="3.3" height="2.8" fill="#f99a4a"/><rect x="31.9" y="315.4" width="2.3" height="2.3" fill="#f99a4a"/><rect x="45.4" y="318.4" width="3.8" height="2.9" fill="#f99a4a"/><rect x="42.6" y="322.7" width="2.8" height="1" fill="#d8f4ff"/><rect x="43.4" y="325.5" width="3.0" height="1" fill="#d8f4ff"/><rect x="59.3" y="318.4" width="3.5" height="2.3" fill="#f99a4a"/><rect x="56.8" y="316.2" width="2.4" height="1.9" fill="#f99a4a"/><rect x="57.6" y="323.8" width="2.8" height="1" fill="#d8f4ff"/><rect x="6.4" y="354.2" width="3.8" height="2.3" fill="#f99a4a"/><rect x="9.2" y="352.0" width="2.7" height="1.8" fill="#f99a4a"/><rect x="8.3" y="359.9" width="2.7" height="1" fill="#d8f4ff"/><rect x="5.1" y="358.4" width="1.8" height="1" fill="#d8f4ff"/><rect x="19.4" y="359.9" width="5.1" height="3.3" fill="#f99a4a"/><rect x="16.6" y="357.7" width="3.6" height="2.7" fill="#f99a4a"/><rect x="34.3" y="360.8" width="3.0" height="2.7" fill="#f99a4a"/><rect x="51.0" y="362.3" width="3.3" height="2.4" fill="#f99a4a"/><rect x="9.0" y="375.3" width="4.4" height="2.3" fill="#f99a4a"/><rect x="17.1" y="381.0" width="1.6" height="1" fill="#d8f4ff"/><rect x="7.7" y="381.0" width="2.4" height="1" fill="#d8f4ff"/><rect x="20.7" y="375.0" width="4.3" height="3.0" fill="#f99a4a"/><rect x="24.3" y="378.5" width="1.6" height="1" fill="#d8f4ff"/><rect x="29.3" y="381.0" width="2.8" height="1" fill="#d8f4ff"/><rect x="34.9" y="378.5" width="3.6" height="3.4" fill="#f99a4a"/><rect x="30.0" y="384.2" width="2.3" height="1" fill="#d8f4ff"/><rect x="33.3" y="384.9" width="2.9" height="1" fill="#d8f4ff"/><rect x="47.1" y="380.1" width="3.8" height="2.7" fill="#f99a4a"/><rect x="53.2" y="386.4" width="2.0" height="1" fill="#d8f4ff"/><rect x="55.6" y="384.7" width="2.6" height="1" fill="#d8f4ff"/><rect x="59.0" y="383.8" width="4.9" height="2.6" fill="#f99a4a"/><rect x="57.1" y="388.0" width="1.8" height="1" fill="#d8f4ff"/><rect x="4.0" y="417.8" width="5.4" height="2.4" fill="#f99a4a"/><rect x="1.4" y="415.6" width="3.8" height="1.9" fill="#f99a4a"/><rect x="12.3" y="424.6" width="2.5" height="1" fill="#d8f4ff"/><rect x="21.6" y="421.3" width="3.5" height="3.4" fill="#f99a4a"/><rect x="25.6" y="426.6" width="1.7" height="1" fill="#d8f4ff"/><rect x="18.7" y="425.0" width="1.6" height="1" fill="#d8f4ff"/><rect x="34.8" y="427.7" width="3.3" height="3.5" fill="#f99a4a"/><rect x="33.9" y="425.5" width="2.3" height="2.8" fill="#f99a4a"/><rect x="47.9" y="425.4" width="4.2" height="2.7" fill="#f99a4a"/><rect x="48.1" y="432.3" width="1.1" height="1" fill="#d8f4ff"/><rect x="54.4" y="431.8" width="1.1" height="1" fill="#d8f4ff"/><rect x="10.6" y="438.9" width="4.9" height="3.4" fill="#f99a4a"/><rect x="9.2" y="436.7" width="3.4" height="2.7" fill="#f99a4a"/><rect x="23.7" y="444.5" width="3.8" height="2.6" fill="#f99a4a"/><rect x="25.3" y="442.3" width="2.7" height="2.0" fill="#f99a4a"/><rect x="40.5" y="443.6" width="3.6" height="2.8" fill="#f99a4a"/><rect x="38.8" y="448.7" width="2.0" height="1" fill="#d8f4ff"/><rect x="56.3" y="447.7" width="5.0" height="3.2" fill="#f99a4a"/><rect x="4.7" y="486.1" width="3.2" height="2.5" fill="#f99a4a"/><rect x="0.2" y="489.4" width="2.1" height="1" fill="#d8f4ff"/><rect x="13.1" y="492.8" width="3.0" height="1" fill="#d8f4ff"/><rect x="17.3" y="484.2" width="3.2" height="2.8" fill="#f99a4a"/><rect x="15.2" y="489.3" width="2.2" height="1" fill="#d8f4ff"/><rect x="32.1" y="492.1" width="4.7" height="2.4" fill="#f99a4a"/><rect x="35.4" y="496.8" width="2.5" height="1" fill="#d8f4ff"/><rect x="30.9" y="496.3" width="1.3" height="1" fill="#d8f4ff"/><rect x="48.8" y="493.6" width="3.8" height="2.7" fill="#f99a4a"/><rect x="47.0" y="500.2" width="2.3" height="1" fill="#d8f4ff"/><rect x="9.2" y="507.6" width="5.3" height="2.3" fill="#f99a4a"/><rect x="6.9" y="505.4" width="3.7" height="1.8" fill="#f99a4a"/><rect x="18.5" y="513.1" width="2.9" height="1" fill="#d8f4ff"/><rect x="17.0" y="512.6" width="1.5" height="1" fill="#d8f4ff"/><rect x="25.9" y="511.0" width="3.3" height="3.0" fill="#f99a4a"/><rect x="25.7" y="515.1" width="1.4" height="1" fill="#d8f4ff"/><rect x="28.9" y="517.1" width="1.4" height="1" fill="#d8f4ff"/><rect x="36.2" y="509.8" width="4.7" height="2.4" fill="#f99a4a"/><rect x="34.4" y="507.6" width="3.3" height="2.0" fill="#f99a4a"/><rect x="32.4" y="513.4" width="1.8" height="1" fill="#d8f4ff"/><rect x="51.3" y="514.6" width="3.2" height="2.4" fill="#f99a4a"/><rect x="49.8" y="519.0" width="2.9" height="1" fill="#d8f4ff"/><rect x="53.8" y="519.2" width="1.8" height="1" fill="#d8f4ff"/><rect x="4.0" y="547.5" width="4.8" height="2.5" fill="#f99a4a"/><rect x="6.4" y="545.3" width="3.4" height="2.0" fill="#f99a4a"/><rect x="10.9" y="552.4" width="2.8" height="1" fill="#d8f4ff"/><rect x="1.6" y="550.8" width="2.1" height="1" fill="#d8f4ff"/><rect x="19.6" y="554.5" width="3.2" height="3.0" fill="#f99a4a"/><rect x="16.3" y="559.1" width="2.0" height="1" fill="#d8f4ff"/><rect x="30.4" y="554.1" width="5.0" height="3.5" fill="#f99a4a"/><rect x="28.1" y="551.9" width="3.5" height="2.8" fill="#f99a4a"/><rect x="44.1" y="554.6" width="5.3" height="2.7" fill="#f99a4a"/><rect x="2.1" y="568.0" width="5.1" height="3.3" fill="#f99a4a"/><rect x="0.4" y="565.8" width="3.6" height="2.6" fill="#f99a4a"/><rect x="4.9" y="573.2" width="1.2" height="1" fill="#d8f4ff"/><rect x="7.8" y="575.2" width="1.1" height="1" fill="#d8f4ff"/><rect x="17.5" y="573.0" width="3.1" height="3.3" fill="#f99a4a"/><rect x="18.1" y="570.8" width="2.2" height="2.6" fill="#f99a4a"/><rect x="20.8" y="577.9" width="1.8" height="1" fill="#d8f4ff"/><rect x="18.0" y="579.3" width="1.9" height="1" fill="#d8f4ff"/><rect x="30.4" y="571.6" width="4.5" height="2.8" fill="#f99a4a"/><rect x="32.0" y="569.4" width="3.2" height="2.3" fill="#f99a4a"/><rect x="28.2" y="576.9" width="1.2" height="1" fill="#d8f4ff"/><rect x="42.8" y="576.4" width="3.2" height="2.8" fill="#f99a4a"/><rect x="46.3" y="580.1" width="2.5" height="1" fill="#d8f4ff"/><rect x="5.4" y="613.9" width="5.4" height="2.4" fill="#f99a4a"/><rect x="21.2" y="615.8" width="5.5" height="2.8" fill="#f99a4a"/><rect x="28.0" y="622.9" width="1.1" height="1" fill="#d8f4ff"/><rect x="35.3" y="621.5" width="3.4" height="3.4" fill="#f99a4a"/><rect x="37.2" y="619.3" width="2.4" height="2.7" fill="#f99a4a"/><rect x="37.1" y="628.9" width="1.4" height="1" fill="#d8f4ff"/><rect x="37.1" y="626.5" width="1.1" height="1" fill="#d8f4ff"/><rect x="46.5" y="620.5" width="5.3" height="3.1" fill="#f99a4a"/><rect x="53.1" y="624.5" width="2.1" height="1" fill="#d8f4ff"/><rect x="6.1" y="635.3" width="5.2" height="2.3" fill="#f99a4a"/><rect x="12.8" y="639.5" width="3.0" height="1" fill="#d8f4ff"/><rect x="20.7" y="636.6" width="4.9" height="2.8" fill="#f99a4a"/><rect x="22.1" y="634.4" width="3.4" height="2.2" fill="#f99a4a"/><rect x="27.6" y="641.1" width="2.3" height="1" fill="#d8f4ff"/><rect x="35.8" y="641.7" width="3.8" height="2.2" fill="#f99a4a"/><rect x="33.6" y="639.5" width="2.6" height="1.8" fill="#f99a4a"/><rect x="37.8" y="648.3" width="1.3" height="1" fill="#d8f4ff"/><rect x="48.5" y="644.1" width="3.1" height="2.2" fill="#f99a4a"/><rect x="48.0" y="648.1" width="2.2" height="1" fill="#d8f4ff"/><rect x="45.9" y="649.7" width="1.9" height="1" fill="#d8f4ff"/><rect x="3.3" y="676.6" width="3.2" height="3.0" fill="#f99a4a"/><rect x="1.6" y="680.1" width="2.3" height="1" fill="#d8f4ff"/><rect x="17.0" y="680.8" width="4.6" height="2.8" fill="#f99a4a"/><rect x="24.9" y="684.3" width="2.1" height="1" fill="#d8f4ff"/><rect x="31.2" y="682.6" width="3.1" height="3.2" fill="#f99a4a"/><rect x="31.5" y="680.4" width="2.2" height="2.6" fill="#f99a4a"/><rect x="28.5" y="688.6" width="2.0" height="1" fill="#d8f4ff"/><rect x="45.9" y="689.3" width="3.4" height="2.6" fill="#f99a4a"/><rect x="43.2" y="687.1" width="2.4" height="2.1" fill="#f99a4a"/><rect x="10.1" y="701.5" width="4.2" height="3.2" fill="#f99a4a"/><rect x="6.6" y="706.0" width="1.1" height="1" fill="#d8f4ff"/><rect x="15.6" y="707.9" width="2.7" height="1" fill="#d8f4ff"/><rect x="25.2" y="701.9" width="4.4" height="2.8" fill="#f99a4a"/><rect x="24.1" y="707.8" width="2.9" height="1" fill="#d8f4ff"/><rect x="32.7" y="705.3" width="1.5" height="1" fill="#d8f4ff"/><rect x="37.1" y="707.0" width="5.4" height="3.2" fill="#f99a4a"/><rect x="39.4" y="704.8" width="3.8" height="2.5" fill="#f99a4a"/><rect x="36.2" y="714.3" width="2.3" height="1" fill="#d8f4ff"/><rect x="5.3" y="746.1" width="4.7" height="3.3" fill="#f99a4a"/><rect x="4.9" y="750.6" width="2.2" height="1" fill="#d8f4ff"/><rect x="17.4" y="749.3" width="3.4" height="2.2" fill="#f99a4a"/><rect x="20.0" y="747.1" width="2.4" height="1.8" fill="#f99a4a"/><rect x="14.1" y="752.5" width="1.1" height="1" fill="#d8f4ff"/><rect x="31.5" y="751.0" width="4.8" height="2.3" fill="#f99a4a"/><rect x="38.3" y="757.4" width="2.8" height="1" fill="#d8f4ff"/><rect x="39.1" y="757.8" width="2.9" height="1" fill="#d8f4ff"/><rect x="43.9" y="750.4" width="3.3" height="2.2" fill="#f99a4a"/><rect x="3.8" y="761.2" width="3.2" height="3.2" fill="#f99a4a"/><rect x="2.7" y="759.0" width="2.3" height="2.5" fill="#f99a4a"/><rect x="-1.3" y="765.9" width="1.6" height="1" fill="#d8f4ff"/><rect x="16.0" y="765.4" width="5.4" height="2.9" fill="#f99a4a"/><rect x="17.4" y="770.6" width="2.5" height="1" fill="#d8f4ff"/><rect x="29.6" y="770.5" width="4.3" height="2.5" fill="#f99a4a"/><rect x="36.2" y="774.4" width="1.0" height="1" fill="#d8f4ff"/><rect x="35.4" y="777.6" width="1.0" height="1" fill="#d8f4ff"/><rect x="9.4" y="808.2" width="4.2" height="2.7" fill="#f99a4a"/><rect x="17.8" y="812.7" width="1.4" height="1" fill="#d8f4ff"/><rect x="23.3" y="810.7" width="4.6" height="2.3" fill="#f99a4a"/><rect x="4.2" y="828.7" width="5.2" height="2.3" fill="#f99a4a"/><rect x="2.7" y="832.9" width="2.8" height="1" fill="#d8f4ff"/><rect x="5.1" y="835.4" width="1.5" height="1" fill="#d8f4ff"/><rect x="18.1" y="831.8" width="4.9" height="3.2" fill="#f99a4a"/><rect x="18.2" y="836.0" width="2.7" height="1" fill="#d8f4ff"/><rect x="34.0" y="832.7" width="4.1" height="3.2" fill="#f99a4a"/><rect x="35.5" y="839.9" width="1.5" height="1" fill="#d8f4ff"/><rect x="33.3" y="839.1" width="2.7" height="1" fill="#d8f4ff"/><rect x="2.8" y="872.8" width="4.3" height="2.4" fill="#f99a4a"/><rect x="1.0" y="870.6" width="3.0" height="1.9" fill="#f99a4a"/><rect x="15.0" y="878.8" width="3.3" height="2.7" fill="#f99a4a"/><rect x="27.9" y="877.1" width="4.6" height="2.3" fill="#f99a4a"/><rect x="27.2" y="874.9" width="3.2" height="1.9" fill="#f99a4a"/><rect x="28.8" y="883.4" width="2.4" height="1" fill="#d8f4ff"/><rect x="32.0" y="882.1" width="1.3" height="1" fill="#d8f4ff"/><rect x="8.9" y="897.2" width="4.1" height="2.9" fill="#f99a4a"/><rect x="7.1" y="903.6" width="2.8" height="1" fill="#d8f4ff"/><rect x="23.7" y="899.9" width="4.7" height="3.0" fill="#f99a4a"/><rect x="27.9" y="903.8" width="1.8" height="1" fill="#d8f4ff"/><rect x="2.9" y="938.0" width="4.1" height="3.0" fill="#f99a4a"/><rect x="14.6" y="942.0" width="4.9" height="2.7" fill="#f99a4a"/><rect x="17.7" y="946.0" width="2.6" height="1" fill="#d8f4ff"/><rect x="1.0" y="958.5" width="4.4" height="3.1" fill="#f99a4a"/><rect x="14.7" y="960.7" width="5.4" height="2.5" fill="#f99a4a"/><rect x="21.0" y="964.4" width="3.0" height="1" fill="#d8f4ff"/><rect x="11.1" y="965.0" width="1.8" height="1" fill="#d8f4ff"/><rect x="5.1" y="1005.3" width="3.9" height="2.5" fill="#f99a4a"/><rect x="6.6" y="1003.1" width="2.7" height="2.0" fill="#f99a4a"/><rect x="3.1" y="1011.8" width="1.8" height="1" fill="#d8f4ff"/><rect x="9.0" y="1026.7" width="4.6" height="2.8" fill="#f99a4a"/><rect x="17.8" y="1031.5" width="2.3" height="1" fill="#d8f4ff"/><rect x="3.9" y="1068.7" width="3.3" height="3.3" fill="#f99a4a"/><rect x="3.8" y="1073.3" width="1.9" height="1" fill="#d8f4ff"/><rect x="15.2" y="1068.2" width="4.8" height="2.6" fill="#f99a4a"/><rect x="14.1" y="1066.0" width="3.4" height="2.1" fill="#f99a4a"/><rect x="16.6" y="1074.0" width="2.3" height="1" fill="#d8f4ff"/><rect x="23.6" y="1074.9" width="1.1" height="1" fill="#d8f4ff"/><rect x="8.9" y="1087.5" width="5.1" height="3.0" fill="#f99a4a"/><rect x="5.9" y="1085.3" width="3.6" height="2.4" fill="#f99a4a"/><rect x="44.0" y="1138.0" width="4.5" height="3" fill="#f9a45c"/><rect x="58.0" y="1141.0" width="4.5" height="3" fill="#f9a45c"/><rect x="73.0" y="1145.0" width="4.5" height="3" fill="#f9a45c"/><rect x="45.0" y="1158.0" width="4.5" height="3" fill="#f9a45c"/><rect x="60.0" y="1161.0" width="4.5" height="3" fill="#f9a45c"/><rect x="46.0" y="1204.0" width="4.5" height="3" fill="#f9a45c"/><rect x="62.0" y="1207.0" width="4.5" height="3" fill="#f9a45c"/><rect x="51.0" y="1095.0" width="4.5" height="3" fill="#f9a45c"/><rect x="69.0" y="1076.0" width="4.5" height="3" fill="#f9a45c"/><use href="#holes"/><use href="#gaps"/><use href="#buf"/><g fill="none" stroke="#c286bf" stroke-linecap="round" stroke-linejoin="round" opacity=".85"><path d="M67.0,365.0 L67.0,373.0" stroke-width="3.0"/><path d="M68.5,390.0 L69.0,406.0" stroke-width="4.0"/><path d="M69.0,430.0 L70.0,447.0 L68.0,469.0" stroke-width="6.0"/><path d="M73.0,435.0 L73.5,462.0" stroke-width="3.0"/><path d="M68.5,492.0 L69.5,512.0 L68.0,534.0" stroke-width="7.0"/><path d="M73.0,497.0 L72.0,522.0" stroke-width="3.0"/><path d="M68.0,557.0 L68.5,599.0" stroke-width="5.0"/><path d="M41.5,887.0 L41.0,911.0" stroke-width="2.2"/><path d="M35.5,935.0 L36.0,957.0 L34.0,984.0" stroke-width="2.6"/><path d="M31.5,1001.0 L30.0,1047.0" stroke-width="2.4"/><path d="M9.7,1162.0 L9.5,1172.0" stroke-width="2.5"/><path d="M62.0,629.0 L61.0,662.0" stroke-width="1.5"/></g><use href="#shore"/><ellipse cx="78.5" cy="637.0" rx="1.1" ry="3.2" transform="rotate(0 78.5 637.0)" fill="#5a2698" stroke="none"/><ellipse cx="84.5" cy="654.7" rx="1.3" ry="1.8" transform="rotate(0 84.5 654.7)" fill="#5a2698" stroke="none"/><ellipse cx="77.0" cy="659.0" rx="0.9" ry="2.6" transform="rotate(0 77.0 659.0)" fill="#5a2698" stroke="none"/><ellipse cx="88.0" cy="633.0" rx="1.2" ry="1.2" transform="rotate(0 88.0 633.0)" fill="#5a2698" stroke="none"/><ellipse cx="90.0" cy="649.0" rx="1.0" ry="2.0" transform="rotate(0 90.0 649.0)" fill="#5a2698" stroke="none"/><ellipse cx="76.5" cy="627.0" rx="0.9" ry="2.2" transform="rotate(0 76.5 627.0)" fill="#5a2698" stroke="none"/><ellipse cx="82.0" cy="630.0" rx="1.0" ry="1.8" transform="rotate(0 82.0 630.0)" fill="#5a2698" stroke="none"/><ellipse cx="93.0" cy="635.0" rx="1.0" ry="1.6" transform="rotate(0 93.0 635.0)" fill="#5a2698" stroke="none"/><ellipse cx="81.5" cy="644.0" rx="1.2" ry="1.6" transform="rotate(0 81.5 644.0)" fill="#5a2698" stroke="none"/><ellipse cx="87.0" cy="641.0" rx="0.9" ry="1.5" transform="rotate(0 87.0 641.0)" fill="#5a2698" stroke="none"/><ellipse cx="80.0" cy="663.0" rx="1.0" ry="2.0" transform="rotate(0 80.0 663.0)" fill="#5a2698" stroke="none"/><ellipse cx="87.5" cy="660.0" rx="1.1" ry="1.8" transform="rotate(0 87.5 660.0)" fill="#5a2698" stroke="none"/><ellipse cx="92.0" cy="657.0" rx="0.8" ry="1.4" transform="rotate(0 92.0 657.0)" fill="#5a2698" stroke="none"/><ellipse cx="76.0" cy="649.0" rx="0.8" ry="2.0" transform="rotate(0 76.0 649.0)" fill="#5a2698" stroke="none"/><ellipse cx="96.0" cy="326.5" rx="0.7" ry="0.7" transform="rotate(0 96.0 326.5)" fill="#5a2698" stroke="none"/><ellipse cx="92.0" cy="332.0" rx="0.8" ry="0.6" transform="rotate(0 92.0 332.0)" fill="#5a2698" stroke="none"/><ellipse cx="77.3" cy="48.0" rx="1.0" ry="1.6" transform="rotate(0 77.3 48.0)" fill="#5a2698" stroke="none"/><ellipse cx="76.2" cy="65.5" rx="0.8" ry="1.2" transform="rotate(0 76.2 65.5)" fill="#5a2698" stroke="none"/></g>
<g transform="translate(1750,53)" clip-path="url(#box)"><rect width="120" height="1215" fill="#fc7876"/><path d="M86.0,-5.0 L86.7,5.0 L87.4,15.0 L87.9,25.0 L88.4,35.0 L88.9,45.0 L89.7,55.0 L90.5,65.0 L91.3,75.0 L92.2,85.0 L93.0,95.0 L93.8,105.0 L94.0,115.0 L94.0,125.0 L94.0,135.0 L94.8,145.0 L95.8,155.0 L96.8,165.0 L97.8,175.0 L98.3,185.0 L98.6,195.0 L98.9,205.0 L99.2,215.0 L99.5,225.0 L99.7,235.0 L100.0,245.0 L99.7,255.0 L99.4,265.0 L99.0,275.0 L98.6,285.0 L98.4,295.0 L98.4,305.0 L98.4,315.0 L98.4,325.0 L98.4,335.0 L98.4,345.0 L98.4,355.0 L98.4,355.8 L121.0,360.3 L121.0,-15.8Z" fill="#fb5a55" filter="url(#b3)"/><path d="M86.4,353.4 L86.4,363.4 L86.4,373.4 L86.4,383.4 L86.4,393.4 L86.4,403.4 L86.1,413.4 L85.3,423.4 L84.4,433.4 L84.2,443.4 L84.2,453.4 L84.1,463.4 L84.0,473.4 L84.0,483.4 L83.9,493.4 L82.8,503.4 L81.8,513.4 L81.8,523.4 L82.1,533.4 L82.1,543.4 L81.4,553.4 L80.8,563.4 L80.1,573.4 L79.5,583.4 L79.3,593.4 L79.0,603.4 L78.0,613.4 L77.0,623.4 L76.8,633.4 L76.6,643.4 L76.4,653.4 L76.2,663.4 L75.5,673.4 L72.2,683.4 L72.0,693.4 L72.0,703.4 L72.0,713.4 L72.0,723.4 L72.0,733.4 L70.8,743.4 L69.7,753.4 L68.6,763.4 L67.4,773.4 L66.2,783.4 L65.0,793.4 L63.8,803.4 L62.6,813.4 L61.5,823.4 L60.5,833.4 L59.4,843.4 L58.3,853.4 L57.2,863.4 L56.1,873.4 L55.3,883.4 L54.7,893.4 L54.1,903.4 L53.5,913.4 L52.6,923.4 L50.0,933.4 L48.3,943.4 L47.2,953.4 L46.2,963.4 L45.2,973.4 L44.2,983.4 L43.0,993.4 L41.8,1003.4 L41.1,1013.4 L40.4,1023.4 L39.8,1033.4 L39.1,1043.4 L39.3,1053.4 L41.3,1063.4 L42.0,1073.4 L42.0,1083.4 L42.0,1093.4 L42.0,1103.4 L41.8,1113.4 L35.9,1123.4 L32.0,1133.4 L32.0,1143.4 L30.3,1153.4 L27.8,1163.4 L27.1,1173.4 L26.4,1183.4 L25.6,1193.4 L25.2,1203.4 L26.8,1213.4 L27.0,1220.0 L121.0,1324.2 L121.0,360.3Z" fill="#ff1e1e"/><path d="M44,1062 L84,1062 86,1130 92,1190 121,1190 121,1215 28,1215 36,1130Z" fill="#fa5656" filter="url(#b2)"/><g filter="url(#b3)"><ellipse cx="108" cy="60" rx="10" ry="40" fill="#fa4a42"/><ellipse cx="112" cy="250" rx="8" ry="60" fill="#fb4840"/><ellipse cx="100" cy="700" rx="10" ry="60" fill="#fb3c3c"/><ellipse cx="90" cy="1000" rx="20" ry="60" fill="#fb3a3a"/><ellipse cx="80" cy="1150" rx="30" ry="50" fill="#fa4444"/><ellipse cx="60" cy="1195" rx="25" ry="25" fill="#f95a5a"/></g><g filter="url(#b1)"><ellipse cx="9.0" cy="30.5" rx="3.8" ry="1.7" fill="#ffe4e4" opacity="0.69"/><ellipse cx="15.0" cy="35.5" rx="5.5" ry="1.8" fill="#f23c3c" opacity="0.52"/><ellipse cx="24.2" cy="33.5" rx="2.8" ry="1.7" fill="#ffe4e4" opacity="0.66"/><ellipse cx="30.2" cy="38.5" rx="5.5" ry="1.8" fill="#f23c3c" opacity="0.52"/><ellipse cx="37.9" cy="36.3" rx="3.6" ry="1.7" fill="#ffe4e4" opacity="0.58"/><ellipse cx="43.9" cy="41.3" rx="5.5" ry="1.8" fill="#f23c3c" opacity="0.52"/><ellipse cx="8.0" cy="49.3" rx="2.9" ry="1.7" fill="#ffe4e4" opacity="0.42"/><ellipse cx="14.0" cy="54.3" rx="5.5" ry="1.8" fill="#f23c3c" opacity="0.42"/><ellipse cx="19.7" cy="51.6" rx="3.2" ry="1.7" fill="#ffe4e4" opacity="0.37"/><ellipse cx="25.7" cy="56.6" rx="5.5" ry="1.8" fill="#f23c3c" opacity="0.42"/><ellipse cx="33.0" cy="54.3" rx="2.7" ry="1.7" fill="#ffe4e4" opacity="0.48"/><ellipse cx="39.0" cy="59.3" rx="5.5" ry="1.8" fill="#f23c3c" opacity="0.42"/><ellipse cx="46.5" cy="57.0" rx="3.3" ry="1.7" fill="#ffe4e4" opacity="0.57"/><ellipse cx="52.5" cy="62.0" rx="5.5" ry="1.8" fill="#f23c3c" opacity="0.42"/><ellipse cx="10.6" cy="64.8" rx="3.2" ry="1.7" fill="#ffe4e4" opacity="0.25"/><ellipse cx="16.6" cy="69.8" rx="5.5" ry="1.8" fill="#f23c3c" opacity="0.21"/><ellipse cx="24.9" cy="67.7" rx="3.8" ry="1.7" fill="#ffe4e4" opacity="0.22"/><ellipse cx="30.9" cy="72.7" rx="5.5" ry="1.8" fill="#f23c3c" opacity="0.21"/><ellipse cx="38.0" cy="70.3" rx="3.9" ry="1.7" fill="#ffe4e4" opacity="0.19"/><ellipse cx="44.0" cy="75.3" rx="5.5" ry="1.8" fill="#f23c3c" opacity="0.21"/><ellipse cx="52.2" cy="73.1" rx="3.5" ry="1.7" fill="#ffe4e4" opacity="0.18"/><ellipse cx="58.2" cy="78.1" rx="5.5" ry="1.8" fill="#f23c3c" opacity="0.21"/><ellipse cx="9.1" cy="95.5" rx="3.9" ry="1.7" fill="#ffe4e4" opacity="0.55"/><ellipse cx="15.1" cy="100.5" rx="5.5" ry="1.8" fill="#f23c3c" opacity="0.52"/><ellipse cx="25.1" cy="98.7" rx="3.3" ry="1.7" fill="#ffe4e4" opacity="0.60"/><ellipse cx="31.1" cy="103.7" rx="5.5" ry="1.8" fill="#f23c3c" opacity="0.52"/><ellipse cx="40.5" cy="101.8" rx="2.6" ry="1.7" fill="#ffe4e4" opacity="0.67"/><ellipse cx="46.5" cy="106.8" rx="5.5" ry="1.8" fill="#f23c3c" opacity="0.52"/><ellipse cx="54.7" cy="104.6" rx="3.0" ry="1.7" fill="#ffe4e4" opacity="0.71"/><ellipse cx="60.7" cy="109.6" rx="5.5" ry="1.8" fill="#f23c3c" opacity="0.52"/><ellipse cx="7.3" cy="114.1" rx="3.3" ry="1.7" fill="#ffe4e4" opacity="0.54"/><ellipse cx="13.3" cy="119.1" rx="5.5" ry="1.8" fill="#f23c3c" opacity="0.42"/><ellipse cx="19.3" cy="116.5" rx="3.2" ry="1.7" fill="#ffe4e4" opacity="0.46"/><ellipse cx="25.3" cy="121.5" rx="5.5" ry="1.8" fill="#f23c3c" opacity="0.42"/><ellipse cx="33.1" cy="119.3" rx="3.7" ry="1.7" fill="#ffe4e4" opacity="0.43"/><ellipse cx="39.1" cy="124.3" rx="5.5" ry="1.8" fill="#f23c3c" opacity="0.42"/><ellipse cx="48.2" cy="122.3" rx="3.1" ry="1.7" fill="#ffe4e4" opacity="0.48"/><ellipse cx="54.2" cy="127.3" rx="5.5" ry="1.8" fill="#f23c3c" opacity="0.42"/><ellipse cx="7.6" cy="129.2" rx="4.0" ry="1.7" fill="#ffe4e4" opacity="0.26"/><ellipse cx="13.6" cy="134.2" rx="5.5" ry="1.8" fill="#f23c3c" opacity="0.21"/><ellipse cx="22.5" cy="132.2" rx="3.0" ry="1.7" fill="#ffe4e4" opacity="0.22"/><ellipse cx="28.5" cy="137.2" rx="5.5" ry="1.8" fill="#f23c3c" opacity="0.21"/><ellipse cx="35.0" cy="134.7" rx="3.4" ry="1.7" fill="#ffe4e4" opacity="0.26"/><ellipse cx="41.0" cy="139.7" rx="5.5" ry="1.8" fill="#f23c3c" opacity="0.21"/><ellipse cx="49.9" cy="137.6" rx="2.6" ry="1.7" fill="#ffe4e4" opacity="0.27"/><ellipse cx="55.9" cy="142.6" rx="5.5" ry="1.8" fill="#f23c3c" opacity="0.21"/><ellipse cx="7.9" cy="160.2" rx="2.6" ry="1.7" fill="#ffe4e4" opacity="0.54"/><ellipse cx="13.9" cy="165.2" rx="5.5" ry="1.8" fill="#f23c3c" opacity="0.52"/><ellipse cx="18.9" cy="162.4" rx="2.8" ry="1.7" fill="#ffe4e4" opacity="0.73"/><ellipse cx="24.9" cy="167.4" rx="5.5" ry="1.8" fill="#f23c3c" opacity="0.52"/><ellipse cx="33.0" cy="165.2" rx="3.5" ry="1.7" fill="#ffe4e4" opacity="0.69"/><ellipse cx="39.0" cy="170.2" rx="5.5" ry="1.8" fill="#f23c3c" opacity="0.52"/><ellipse cx="48.5" cy="168.3" rx="3.4" ry="1.7" fill="#ffe4e4" opacity="0.64"/><ellipse cx="54.5" cy="173.3" rx="5.5" ry="1.8" fill="#f23c3c" opacity="0.52"/><ellipse cx="9.3" cy="179.5" rx="3.4" ry="1.7" fill="#ffe4e4" opacity="0.52"/><ellipse cx="15.3" cy="184.5" rx="5.5" ry="1.8" fill="#f23c3c" opacity="0.42"/><ellipse cx="21.3" cy="181.9" rx="3.5" ry="1.7" fill="#ffe4e4" opacity="0.47"/><ellipse cx="27.3" cy="186.9" rx="5.5" ry="1.8" fill="#f23c3c" opacity="0.42"/><ellipse cx="36.1" cy="184.8" rx="2.7" ry="1.7" fill="#ffe4e4" opacity="0.40"/><ellipse cx="42.1" cy="189.8" rx="5.5" ry="1.8" fill="#f23c3c" opacity="0.42"/><ellipse cx="47.3" cy="187.1" rx="3.7" ry="1.7" fill="#ffe4e4" opacity="0.58"/><ellipse cx="53.3" cy="192.1" rx="5.5" ry="1.8" fill="#f23c3c" opacity="0.42"/><ellipse cx="6.3" cy="193.9" rx="3.7" ry="1.7" fill="#ffe4e4" opacity="0.27"/><ellipse cx="12.3" cy="198.9" rx="5.5" ry="1.8" fill="#f23c3c" opacity="0.21"/><ellipse cx="20.1" cy="196.6" rx="2.9" ry="1.7" fill="#ffe4e4" opacity="0.22"/><ellipse cx="26.1" cy="201.6" rx="5.5" ry="1.8" fill="#f23c3c" opacity="0.21"/><ellipse cx="33.2" cy="199.2" rx="3.0" ry="1.7" fill="#ffe4e4" opacity="0.23"/><ellipse cx="39.2" cy="204.2" rx="5.5" ry="1.8" fill="#f23c3c" opacity="0.21"/><ellipse cx="47.4" cy="202.1" rx="3.9" ry="1.7" fill="#ffe4e4" opacity="0.19"/><ellipse cx="53.4" cy="207.1" rx="5.5" ry="1.8" fill="#f23c3c" opacity="0.21"/><ellipse cx="3.4" cy="224.2" rx="2.7" ry="1.7" fill="#ffe4e4" opacity="0.69"/><ellipse cx="9.4" cy="229.2" rx="5.5" ry="1.8" fill="#f23c3c" opacity="0.52"/><ellipse cx="17.2" cy="227.0" rx="3.9" ry="1.7" fill="#ffe4e4" opacity="0.58"/><ellipse cx="23.2" cy="232.0" rx="5.5" ry="1.8" fill="#f23c3c" opacity="0.52"/><ellipse cx="28.3" cy="229.2" rx="3.1" ry="1.7" fill="#ffe4e4" opacity="0.63"/><ellipse cx="34.3" cy="234.2" rx="5.5" ry="1.8" fill="#f23c3c" opacity="0.52"/><ellipse cx="44.0" cy="232.3" rx="4.0" ry="1.7" fill="#ffe4e4" opacity="0.59"/><ellipse cx="50.0" cy="237.3" rx="5.5" ry="1.8" fill="#f23c3c" opacity="0.52"/><ellipse cx="57.1" cy="235.0" rx="2.7" ry="1.7" fill="#ffe4e4" opacity="0.64"/><ellipse cx="63.1" cy="240.0" rx="5.5" ry="1.8" fill="#f23c3c" opacity="0.52"/><ellipse cx="4.4" cy="243.4" rx="2.5" ry="1.7" fill="#ffe4e4" opacity="0.36"/><ellipse cx="10.4" cy="248.4" rx="5.5" ry="1.8" fill="#f23c3c" opacity="0.42"/><ellipse cx="18.8" cy="246.3" rx="2.7" ry="1.7" fill="#ffe4e4" opacity="0.59"/><ellipse cx="24.8" cy="251.3" rx="5.5" ry="1.8" fill="#f23c3c" opacity="0.42"/><ellipse cx="30.2" cy="248.6" rx="3.8" ry="1.7" fill="#ffe4e4" opacity="0.39"/><ellipse cx="36.2" cy="253.6" rx="5.5" ry="1.8" fill="#f23c3c" opacity="0.42"/><ellipse cx="41.3" cy="250.8" rx="3.6" ry="1.7" fill="#ffe4e4" opacity="0.42"/><ellipse cx="47.3" cy="255.8" rx="5.5" ry="1.8" fill="#f23c3c" opacity="0.42"/><ellipse cx="56.0" cy="253.7" rx="2.8" ry="1.7" fill="#ffe4e4" opacity="0.37"/><ellipse cx="62.0" cy="258.7" rx="5.5" ry="1.8" fill="#f23c3c" opacity="0.42"/><ellipse cx="9.4" cy="259.4" rx="3.8" ry="1.7" fill="#ffe4e4" opacity="0.27"/><ellipse cx="15.4" cy="264.4" rx="5.5" ry="1.8" fill="#f23c3c" opacity="0.21"/><ellipse cx="20.8" cy="261.7" rx="3.4" ry="1.7" fill="#ffe4e4" opacity="0.27"/><ellipse cx="26.8" cy="266.7" rx="5.5" ry="1.8" fill="#f23c3c" opacity="0.21"/><ellipse cx="34.1" cy="264.4" rx="3.9" ry="1.7" fill="#ffe4e4" opacity="0.21"/><ellipse cx="40.1" cy="269.4" rx="5.5" ry="1.8" fill="#f23c3c" opacity="0.21"/><ellipse cx="50.0" cy="267.5" rx="3.6" ry="1.7" fill="#ffe4e4" opacity="0.18"/><ellipse cx="56.0" cy="272.5" rx="5.5" ry="1.8" fill="#f23c3c" opacity="0.21"/><ellipse cx="61.0" cy="269.8" rx="3.5" ry="1.7" fill="#ffe4e4" opacity="0.28"/><ellipse cx="67.0" cy="274.8" rx="5.5" ry="1.8" fill="#f23c3c" opacity="0.21"/><ellipse cx="5.8" cy="289.7" rx="3.6" ry="1.7" fill="#ffe4e4" opacity="0.50"/><ellipse cx="11.8" cy="294.7" rx="5.5" ry="1.8" fill="#f23c3c" opacity="0.52"/><ellipse cx="21.1" cy="292.7" rx="3.2" ry="1.7" fill="#ffe4e4" opacity="0.47"/><ellipse cx="27.1" cy="297.7" rx="5.5" ry="1.8" fill="#f23c3c" opacity="0.52"/><ellipse cx="33.9" cy="295.3" rx="3.4" ry="1.7" fill="#ffe4e4" opacity="0.58"/><ellipse cx="39.9" cy="300.3" rx="5.5" ry="1.8" fill="#f23c3c" opacity="0.52"/><ellipse cx="48.3" cy="298.2" rx="2.7" ry="1.7" fill="#ffe4e4" opacity="0.69"/><ellipse cx="54.3" cy="303.2" rx="5.5" ry="1.8" fill="#f23c3c" opacity="0.52"/><ellipse cx="8.8" cy="309.3" rx="3.4" ry="1.7" fill="#ffe4e4" opacity="0.46"/><ellipse cx="14.8" cy="314.3" rx="5.5" ry="1.8" fill="#f23c3c" opacity="0.42"/><ellipse cx="21.7" cy="311.8" rx="3.7" ry="1.7" fill="#ffe4e4" opacity="0.59"/><ellipse cx="27.7" cy="316.8" rx="5.5" ry="1.8" fill="#f23c3c" opacity="0.42"/><ellipse cx="36.7" cy="314.8" rx="3.4" ry="1.7" fill="#ffe4e4" opacity="0.43"/><ellipse cx="42.7" cy="319.8" rx="5.5" ry="1.8" fill="#f23c3c" opacity="0.42"/><ellipse cx="48.0" cy="317.1" rx="4.0" ry="1.7" fill="#ffe4e4" opacity="0.53"/><ellipse cx="54.0" cy="322.1" rx="5.5" ry="1.8" fill="#f23c3c" opacity="0.42"/><ellipse cx="6.0" cy="323.7" rx="3.4" ry="1.7" fill="#ffe4e4" opacity="0.30"/><ellipse cx="12.0" cy="328.7" rx="5.5" ry="1.8" fill="#f23c3c" opacity="0.21"/><ellipse cx="21.1" cy="326.7" rx="3.4" ry="1.7" fill="#ffe4e4" opacity="0.22"/><ellipse cx="27.1" cy="331.7" rx="5.5" ry="1.8" fill="#f23c3c" opacity="0.21"/><ellipse cx="34.3" cy="329.4" rx="3.8" ry="1.7" fill="#ffe4e4" opacity="0.23"/><ellipse cx="40.3" cy="334.4" rx="5.5" ry="1.8" fill="#f23c3c" opacity="0.21"/><ellipse cx="48.7" cy="332.2" rx="3.4" ry="1.7" fill="#ffe4e4" opacity="0.29"/><ellipse cx="54.7" cy="337.2" rx="5.5" ry="1.8" fill="#f23c3c" opacity="0.21"/><ellipse cx="5.5" cy="354.6" rx="2.5" ry="1.7" fill="#ffe4e4" opacity="0.53"/><ellipse cx="11.5" cy="359.6" rx="5.5" ry="1.8" fill="#f23c3c" opacity="0.52"/><ellipse cx="18.7" cy="357.2" rx="3.4" ry="1.7" fill="#ffe4e4" opacity="0.69"/><ellipse cx="24.7" cy="362.2" rx="5.5" ry="1.8" fill="#f23c3c" opacity="0.52"/><ellipse cx="34.1" cy="360.3" rx="2.6" ry="1.7" fill="#ffe4e4" opacity="0.70"/><ellipse cx="40.1" cy="365.3" rx="5.5" ry="1.8" fill="#f23c3c" opacity="0.52"/><ellipse cx="49.2" cy="363.3" rx="3.8" ry="1.7" fill="#ffe4e4" opacity="0.62"/><ellipse cx="55.2" cy="368.3" rx="5.5" ry="1.8" fill="#f23c3c" opacity="0.52"/><ellipse cx="10.7" cy="374.6" rx="3.7" ry="1.7" fill="#ffe4e4" opacity="0.52"/><ellipse cx="16.7" cy="379.6" rx="5.5" ry="1.8" fill="#f23c3c" opacity="0.42"/><ellipse cx="26.2" cy="377.7" rx="3.0" ry="1.7" fill="#ffe4e4" opacity="0.38"/><ellipse cx="32.2" cy="382.7" rx="5.5" ry="1.8" fill="#f23c3c" opacity="0.42"/><ellipse cx="40.0" cy="380.4" rx="3.7" ry="1.7" fill="#ffe4e4" opacity="0.41"/><ellipse cx="46.0" cy="385.4" rx="5.5" ry="1.8" fill="#f23c3c" opacity="0.42"/><ellipse cx="54.7" cy="383.4" rx="3.9" ry="1.7" fill="#ffe4e4" opacity="0.42"/><ellipse cx="60.7" cy="388.4" rx="5.5" ry="1.8" fill="#f23c3c" opacity="0.42"/><ellipse cx="9.1" cy="389.3" rx="3.2" ry="1.7" fill="#ffe4e4" opacity="0.20"/><ellipse cx="15.1" cy="394.3" rx="5.5" ry="1.8" fill="#f23c3c" opacity="0.21"/><ellipse cx="21.4" cy="391.7" rx="3.6" ry="1.7" fill="#ffe4e4" opacity="0.27"/><ellipse cx="27.4" cy="396.7" rx="5.5" ry="1.8" fill="#f23c3c" opacity="0.21"/><ellipse cx="34.7" cy="394.4" rx="2.6" ry="1.7" fill="#ffe4e4" opacity="0.28"/><ellipse cx="40.7" cy="399.4" rx="5.5" ry="1.8" fill="#f23c3c" opacity="0.21"/><ellipse cx="49.5" cy="397.4" rx="2.8" ry="1.7" fill="#ffe4e4" opacity="0.25"/><ellipse cx="55.5" cy="402.4" rx="5.5" ry="1.8" fill="#f23c3c" opacity="0.21"/><ellipse cx="11.0" cy="420.6" rx="3.3" ry="1.7" fill="#ffe4e4" opacity="0.59"/><ellipse cx="17.0" cy="425.6" rx="5.5" ry="1.8" fill="#f23c3c" opacity="0.52"/><ellipse cx="24.9" cy="423.4" rx="2.8" ry="1.7" fill="#ffe4e4" opacity="0.51"/><ellipse cx="30.9" cy="428.4" rx="5.5" ry="1.8" fill="#f23c3c" opacity="0.52"/><ellipse cx="36.8" cy="425.8" rx="3.6" ry="1.7" fill="#ffe4e4" opacity="0.56"/><ellipse cx="42.8" cy="430.8" rx="5.5" ry="1.8" fill="#f23c3c" opacity="0.52"/><ellipse cx="50.6" cy="428.5" rx="3.1" ry="1.7" fill="#ffe4e4" opacity="0.61"/><ellipse cx="56.6" cy="433.5" rx="5.5" ry="1.8" fill="#f23c3c" opacity="0.52"/><ellipse cx="3.4" cy="438.1" rx="4.0" ry="1.7" fill="#ffe4e4" opacity="0.45"/><ellipse cx="9.4" cy="443.1" rx="5.5" ry="1.8" fill="#f23c3c" opacity="0.42"/><ellipse cx="14.9" cy="440.4" rx="3.4" ry="1.7" fill="#ffe4e4" opacity="0.55"/><ellipse cx="20.9" cy="445.4" rx="5.5" ry="1.8" fill="#f23c3c" opacity="0.42"/><ellipse cx="26.7" cy="442.7" rx="3.4" ry="1.7" fill="#ffe4e4" opacity="0.44"/><ellipse cx="32.7" cy="447.7" rx="5.5" ry="1.8" fill="#f23c3c" opacity="0.42"/><ellipse cx="40.3" cy="445.5" rx="2.5" ry="1.7" fill="#ffe4e4" opacity="0.37"/><ellipse cx="46.3" cy="450.5" rx="5.5" ry="1.8" fill="#f23c3c" opacity="0.42"/><ellipse cx="56.3" cy="448.7" rx="3.8" ry="1.7" fill="#ffe4e4" opacity="0.48"/><ellipse cx="62.3" cy="453.7" rx="5.5" ry="1.8" fill="#f23c3c" opacity="0.42"/><ellipse cx="5.4" cy="453.5" rx="3.7" ry="1.7" fill="#ffe4e4" opacity="0.23"/><ellipse cx="11.4" cy="458.5" rx="5.5" ry="1.8" fill="#f23c3c" opacity="0.21"/><ellipse cx="21.1" cy="456.6" rx="3.7" ry="1.7" fill="#ffe4e4" opacity="0.28"/><ellipse cx="27.1" cy="461.6" rx="5.5" ry="1.8" fill="#f23c3c" opacity="0.21"/><ellipse cx="36.9" cy="459.8" rx="2.9" ry="1.7" fill="#ffe4e4" opacity="0.18"/><ellipse cx="42.9" cy="464.8" rx="5.5" ry="1.8" fill="#f23c3c" opacity="0.21"/><ellipse cx="48.9" cy="462.2" rx="2.8" ry="1.7" fill="#ffe4e4" opacity="0.19"/><ellipse cx="54.9" cy="467.2" rx="5.5" ry="1.8" fill="#f23c3c" opacity="0.21"/><ellipse cx="8.0" cy="485.0" rx="3.8" ry="1.7" fill="#ffe4e4" opacity="0.59"/><ellipse cx="14.0" cy="490.0" rx="5.5" ry="1.8" fill="#f23c3c" opacity="0.52"/><ellipse cx="23.8" cy="488.1" rx="3.9" ry="1.7" fill="#ffe4e4" opacity="0.47"/><ellipse cx="29.8" cy="493.1" rx="5.5" ry="1.8" fill="#f23c3c" opacity="0.52"/><ellipse cx="37.7" cy="490.9" rx="3.1" ry="1.7" fill="#ffe4e4" opacity="0.49"/><ellipse cx="43.7" cy="495.9" rx="5.5" ry="1.8" fill="#f23c3c" opacity="0.52"/><ellipse cx="53.5" cy="494.1" rx="2.9" ry="1.7" fill="#ffe4e4" opacity="0.62"/><ellipse cx="59.5" cy="499.1" rx="5.5" ry="1.8" fill="#f23c3c" opacity="0.52"/><ellipse cx="11.6" cy="504.7" rx="3.5" ry="1.7" fill="#ffe4e4" opacity="0.45"/><ellipse cx="17.6" cy="509.7" rx="5.5" ry="1.8" fill="#f23c3c" opacity="0.42"/><ellipse cx="24.8" cy="507.3" rx="2.7" ry="1.7" fill="#ffe4e4" opacity="0.59"/><ellipse cx="30.8" cy="512.3" rx="5.5" ry="1.8" fill="#f23c3c" opacity="0.42"/><ellipse cx="40.8" cy="510.5" rx="2.8" ry="1.7" fill="#ffe4e4" opacity="0.37"/><ellipse cx="46.8" cy="515.5" rx="5.5" ry="1.8" fill="#f23c3c" opacity="0.42"/><ellipse cx="53.1" cy="513.0" rx="3.0" ry="1.7" fill="#ffe4e4" opacity="0.58"/><ellipse cx="59.1" cy="518.0" rx="5.5" ry="1.8" fill="#f23c3c" opacity="0.42"/><ellipse cx="10.5" cy="519.5" rx="2.6" ry="1.7" fill="#ffe4e4" opacity="0.27"/><ellipse cx="16.5" cy="524.5" rx="5.5" ry="1.8" fill="#f23c3c" opacity="0.21"/><ellipse cx="25.1" cy="522.4" rx="3.5" ry="1.7" fill="#ffe4e4" opacity="0.30"/><ellipse cx="31.1" cy="527.4" rx="5.5" ry="1.8" fill="#f23c3c" opacity="0.21"/><ellipse cx="36.4" cy="524.6" rx="2.7" ry="1.7" fill="#ffe4e4" opacity="0.27"/><ellipse cx="42.4" cy="529.6" rx="5.5" ry="1.8" fill="#f23c3c" opacity="0.21"/><ellipse cx="52.1" cy="527.8" rx="3.5" ry="1.7" fill="#ffe4e4" opacity="0.22"/><ellipse cx="58.1" cy="532.8" rx="5.5" ry="1.8" fill="#f23c3c" opacity="0.21"/><ellipse cx="9.8" cy="550.3" rx="2.7" ry="1.7" fill="#ffe4e4" opacity="0.55"/><ellipse cx="15.8" cy="555.3" rx="5.5" ry="1.8" fill="#f23c3c" opacity="0.52"/><ellipse cx="22.1" cy="552.7" rx="2.7" ry="1.7" fill="#ffe4e4" opacity="0.59"/><ellipse cx="28.1" cy="557.7" rx="5.5" ry="1.8" fill="#f23c3c" opacity="0.52"/><ellipse cx="33.9" cy="555.1" rx="2.9" ry="1.7" fill="#ffe4e4" opacity="0.49"/><ellipse cx="39.9" cy="560.1" rx="5.5" ry="1.8" fill="#f23c3c" opacity="0.52"/><ellipse cx="48.3" cy="558.0" rx="2.5" ry="1.7" fill="#ffe4e4" opacity="0.67"/><ellipse cx="54.3" cy="563.0" rx="5.5" ry="1.8" fill="#f23c3c" opacity="0.52"/><ellipse cx="3.3" cy="568.0" rx="3.9" ry="1.7" fill="#ffe4e4" opacity="0.41"/><ellipse cx="9.3" cy="573.0" rx="5.5" ry="1.8" fill="#f23c3c" opacity="0.42"/><ellipse cx="19.0" cy="571.1" rx="3.8" ry="1.7" fill="#ffe4e4" opacity="0.57"/><ellipse cx="25.0" cy="576.1" rx="5.5" ry="1.8" fill="#f23c3c" opacity="0.42"/><ellipse cx="30.7" cy="573.4" rx="3.2" ry="1.7" fill="#ffe4e4" opacity="0.38"/><ellipse cx="36.7" cy="578.4" rx="5.5" ry="1.8" fill="#f23c3c" opacity="0.42"/><ellipse cx="46.3" cy="576.6" rx="3.8" ry="1.7" fill="#ffe4e4" opacity="0.51"/><ellipse cx="52.3" cy="581.6" rx="5.5" ry="1.8" fill="#f23c3c" opacity="0.42"/><ellipse cx="6.1" cy="583.5" rx="3.7" ry="1.7" fill="#ffe4e4" opacity="0.24"/><ellipse cx="12.1" cy="588.5" rx="5.5" ry="1.8" fill="#f23c3c" opacity="0.21"/><ellipse cx="20.2" cy="586.3" rx="2.7" ry="1.7" fill="#ffe4e4" opacity="0.21"/><ellipse cx="26.2" cy="591.3" rx="5.5" ry="1.8" fill="#f23c3c" opacity="0.21"/><ellipse cx="31.5" cy="588.6" rx="3.6" ry="1.7" fill="#ffe4e4" opacity="0.25"/><ellipse cx="37.5" cy="593.6" rx="5.5" ry="1.8" fill="#f23c3c" opacity="0.21"/><ellipse cx="43.2" cy="590.9" rx="3.8" ry="1.7" fill="#ffe4e4" opacity="0.21"/><ellipse cx="49.2" cy="595.9" rx="5.5" ry="1.8" fill="#f23c3c" opacity="0.21"/><ellipse cx="4.4" cy="614.1" rx="2.9" ry="1.7" fill="#ffe4e4" opacity="0.70"/><ellipse cx="10.4" cy="619.1" rx="5.5" ry="1.8" fill="#f23c3c" opacity="0.52"/><ellipse cx="17.1" cy="616.7" rx="2.8" ry="1.7" fill="#ffe4e4" opacity="0.60"/><ellipse cx="23.1" cy="621.7" rx="5.5" ry="1.8" fill="#f23c3c" opacity="0.52"/><ellipse cx="29.7" cy="619.2" rx="3.9" ry="1.7" fill="#ffe4e4" opacity="0.48"/><ellipse cx="35.7" cy="624.2" rx="5.5" ry="1.8" fill="#f23c3c" opacity="0.52"/><ellipse cx="45.6" cy="622.4" rx="2.6" ry="1.7" fill="#ffe4e4" opacity="0.72"/><ellipse cx="51.6" cy="627.4" rx="5.5" ry="1.8" fill="#f23c3c" opacity="0.52"/><ellipse cx="4.9" cy="633.2" rx="3.2" ry="1.7" fill="#ffe4e4" opacity="0.43"/><ellipse cx="10.9" cy="638.2" rx="5.5" ry="1.8" fill="#f23c3c" opacity="0.42"/><ellipse cx="17.2" cy="635.7" rx="2.8" ry="1.7" fill="#ffe4e4" opacity="0.45"/><ellipse cx="23.2" cy="640.7" rx="5.5" ry="1.8" fill="#f23c3c" opacity="0.42"/><ellipse cx="33.1" cy="638.9" rx="4.0" ry="1.7" fill="#ffe4e4" opacity="0.58"/><ellipse cx="39.1" cy="643.9" rx="5.5" ry="1.8" fill="#f23c3c" opacity="0.42"/><ellipse cx="44.6" cy="641.2" rx="2.9" ry="1.7" fill="#ffe4e4" opacity="0.58"/><ellipse cx="50.6" cy="646.2" rx="5.5" ry="1.8" fill="#f23c3c" opacity="0.42"/><ellipse cx="9.5" cy="649.2" rx="2.9" ry="1.7" fill="#ffe4e4" opacity="0.30"/><ellipse cx="15.5" cy="654.2" rx="5.5" ry="1.8" fill="#f23c3c" opacity="0.21"/><ellipse cx="20.6" cy="651.4" rx="3.7" ry="1.7" fill="#ffe4e4" opacity="0.22"/><ellipse cx="26.6" cy="656.4" rx="5.5" ry="1.8" fill="#f23c3c" opacity="0.21"/><ellipse cx="32.3" cy="653.7" rx="2.5" ry="1.7" fill="#ffe4e4" opacity="0.28"/><ellipse cx="38.3" cy="658.7" rx="5.5" ry="1.8" fill="#f23c3c" opacity="0.21"/><ellipse cx="46.0" cy="656.4" rx="2.8" ry="1.7" fill="#ffe4e4" opacity="0.23"/><ellipse cx="52.0" cy="661.4" rx="5.5" ry="1.8" fill="#f23c3c" opacity="0.21"/><ellipse cx="5.0" cy="679.2" rx="3.4" ry="1.7" fill="#ffe4e4" opacity="0.49"/><ellipse cx="11.0" cy="684.2" rx="5.5" ry="1.8" fill="#f23c3c" opacity="0.52"/><ellipse cx="16.9" cy="681.6" rx="3.7" ry="1.7" fill="#ffe4e4" opacity="0.66"/><ellipse cx="22.9" cy="686.6" rx="5.5" ry="1.8" fill="#f23c3c" opacity="0.52"/><ellipse cx="28.8" cy="684.0" rx="2.6" ry="1.7" fill="#ffe4e4" opacity="0.48"/><ellipse cx="34.8" cy="689.0" rx="5.5" ry="1.8" fill="#f23c3c" opacity="0.52"/><ellipse cx="42.9" cy="686.8" rx="3.2" ry="1.7" fill="#ffe4e4" opacity="0.53"/><ellipse cx="48.9" cy="691.8" rx="5.5" ry="1.8" fill="#f23c3c" opacity="0.52"/><ellipse cx="8.5" cy="698.9" rx="3.6" ry="1.7" fill="#ffe4e4" opacity="0.55"/><ellipse cx="14.5" cy="703.9" rx="5.5" ry="1.8" fill="#f23c3c" opacity="0.42"/><ellipse cx="22.4" cy="701.7" rx="2.8" ry="1.7" fill="#ffe4e4" opacity="0.38"/><ellipse cx="28.4" cy="706.7" rx="5.5" ry="1.8" fill="#f23c3c" opacity="0.42"/><ellipse cx="37.1" cy="704.6" rx="3.1" ry="1.7" fill="#ffe4e4" opacity="0.53"/><ellipse cx="43.1" cy="709.6" rx="5.5" ry="1.8" fill="#f23c3c" opacity="0.42"/><ellipse cx="10.3" cy="714.3" rx="3.0" ry="1.7" fill="#ffe4e4" opacity="0.28"/><ellipse cx="16.3" cy="719.3" rx="5.5" ry="1.8" fill="#f23c3c" opacity="0.21"/><ellipse cx="25.6" cy="717.3" rx="3.2" ry="1.7" fill="#ffe4e4" opacity="0.18"/><ellipse cx="31.6" cy="722.3" rx="5.5" ry="1.8" fill="#f23c3c" opacity="0.21"/><ellipse cx="41.2" cy="720.4" rx="3.2" ry="1.7" fill="#ffe4e4" opacity="0.28"/><ellipse cx="47.2" cy="725.4" rx="5.5" ry="1.8" fill="#f23c3c" opacity="0.21"/><ellipse cx="4.7" cy="744.1" rx="3.7" ry="1.7" fill="#ffe4e4" opacity="0.56"/><ellipse cx="10.7" cy="749.1" rx="5.5" ry="1.8" fill="#f23c3c" opacity="0.52"/><ellipse cx="16.5" cy="746.4" rx="3.1" ry="1.7" fill="#ffe4e4" opacity="0.63"/><ellipse cx="22.5" cy="751.4" rx="5.5" ry="1.8" fill="#f23c3c" opacity="0.52"/><ellipse cx="27.5" cy="748.7" rx="3.3" ry="1.7" fill="#ffe4e4" opacity="0.58"/><ellipse cx="33.5" cy="753.7" rx="5.5" ry="1.8" fill="#f23c3c" opacity="0.52"/><ellipse cx="41.1" cy="751.4" rx="2.7" ry="1.7" fill="#ffe4e4" opacity="0.66"/><ellipse cx="47.1" cy="756.4" rx="5.5" ry="1.8" fill="#f23c3c" opacity="0.52"/><ellipse cx="10.8" cy="764.3" rx="3.0" ry="1.7" fill="#ffe4e4" opacity="0.53"/><ellipse cx="16.8" cy="769.3" rx="5.5" ry="1.8" fill="#f23c3c" opacity="0.42"/><ellipse cx="23.7" cy="766.9" rx="3.6" ry="1.7" fill="#ffe4e4" opacity="0.37"/><ellipse cx="29.7" cy="771.9" rx="5.5" ry="1.8" fill="#f23c3c" opacity="0.42"/><ellipse cx="39.1" cy="770.0" rx="3.9" ry="1.7" fill="#ffe4e4" opacity="0.48"/><ellipse cx="45.1" cy="775.0" rx="5.5" ry="1.8" fill="#f23c3c" opacity="0.42"/><ellipse cx="7.8" cy="778.7" rx="3.3" ry="1.7" fill="#ffe4e4" opacity="0.18"/><ellipse cx="13.8" cy="783.7" rx="5.5" ry="1.8" fill="#f23c3c" opacity="0.21"/><ellipse cx="23.6" cy="781.9" rx="2.8" ry="1.7" fill="#ffe4e4" opacity="0.20"/><ellipse cx="29.6" cy="786.9" rx="5.5" ry="1.8" fill="#f23c3c" opacity="0.21"/><ellipse cx="35.1" cy="784.2" rx="2.9" ry="1.7" fill="#ffe4e4" opacity="0.28"/><ellipse cx="41.1" cy="789.2" rx="5.5" ry="1.8" fill="#f23c3c" opacity="0.21"/><ellipse cx="3.9" cy="808.9" rx="3.5" ry="1.7" fill="#ffe4e4" opacity="0.51"/><ellipse cx="9.9" cy="813.9" rx="5.5" ry="1.8" fill="#f23c3c" opacity="0.52"/><ellipse cx="15.0" cy="811.1" rx="3.4" ry="1.7" fill="#ffe4e4" opacity="0.62"/><ellipse cx="21.0" cy="816.1" rx="5.5" ry="1.8" fill="#f23c3c" opacity="0.52"/><ellipse cx="28.6" cy="813.8" rx="3.6" ry="1.7" fill="#ffe4e4" opacity="0.48"/><ellipse cx="34.6" cy="818.8" rx="5.5" ry="1.8" fill="#f23c3c" opacity="0.52"/><ellipse cx="9.5" cy="829.0" rx="2.6" ry="1.7" fill="#ffe4e4" opacity="0.39"/><ellipse cx="15.5" cy="834.0" rx="5.5" ry="1.8" fill="#f23c3c" opacity="0.42"/><ellipse cx="22.9" cy="831.7" rx="3.3" ry="1.7" fill="#ffe4e4" opacity="0.43"/><ellipse cx="28.9" cy="836.7" rx="5.5" ry="1.8" fill="#f23c3c" opacity="0.42"/><ellipse cx="6.7" cy="843.4" rx="2.7" ry="1.7" fill="#ffe4e4" opacity="0.25"/><ellipse cx="12.7" cy="848.4" rx="5.5" ry="1.8" fill="#f23c3c" opacity="0.21"/><ellipse cx="22.0" cy="846.5" rx="2.7" ry="1.7" fill="#ffe4e4" opacity="0.25"/><ellipse cx="28.0" cy="851.5" rx="5.5" ry="1.8" fill="#f23c3c" opacity="0.21"/><ellipse cx="4.5" cy="873.9" rx="3.7" ry="1.7" fill="#ffe4e4" opacity="0.73"/><ellipse cx="10.5" cy="878.9" rx="5.5" ry="1.8" fill="#f23c3c" opacity="0.52"/><ellipse cx="17.4" cy="876.5" rx="3.1" ry="1.7" fill="#ffe4e4" opacity="0.70"/><ellipse cx="23.4" cy="881.5" rx="5.5" ry="1.8" fill="#f23c3c" opacity="0.52"/><ellipse cx="6.6" cy="893.4" rx="3.9" ry="1.7" fill="#ffe4e4" opacity="0.55"/><ellipse cx="12.6" cy="898.4" rx="5.5" ry="1.8" fill="#f23c3c" opacity="0.42"/><ellipse cx="19.3" cy="895.9" rx="2.9" ry="1.7" fill="#ffe4e4" opacity="0.44"/><ellipse cx="25.3" cy="900.9" rx="5.5" ry="1.8" fill="#f23c3c" opacity="0.42"/><ellipse cx="11.8" cy="909.4" rx="3.7" ry="1.7" fill="#ffe4e4" opacity="0.29"/><ellipse cx="17.8" cy="914.4" rx="5.5" ry="1.8" fill="#f23c3c" opacity="0.21"/><ellipse cx="26.9" cy="912.4" rx="3.8" ry="1.7" fill="#ffe4e4" opacity="0.19"/><ellipse cx="32.9" cy="917.4" rx="5.5" ry="1.8" fill="#f23c3c" opacity="0.21"/><ellipse cx="11.6" cy="940.3" rx="3.9" ry="1.7" fill="#ffe4e4" opacity="0.52"/><ellipse cx="17.6" cy="945.3" rx="5.5" ry="1.8" fill="#f23c3c" opacity="0.52"/><ellipse cx="8.7" cy="958.7" rx="3.0" ry="1.7" fill="#ffe4e4" opacity="0.49"/><ellipse cx="14.7" cy="963.7" rx="5.5" ry="1.8" fill="#f23c3c" opacity="0.42"/><ellipse cx="20.0" cy="961.0" rx="3.1" ry="1.7" fill="#ffe4e4" opacity="0.48"/><ellipse cx="26.0" cy="966.0" rx="5.5" ry="1.8" fill="#f23c3c" opacity="0.42"/><ellipse cx="4.3" cy="972.9" rx="4.0" ry="1.7" fill="#ffe4e4" opacity="0.27"/><ellipse cx="10.3" cy="977.9" rx="5.5" ry="1.8" fill="#f23c3c" opacity="0.21"/><ellipse cx="8.7" cy="1004.7" rx="3.7" ry="1.7" fill="#ffe4e4" opacity="0.72"/><ellipse cx="14.7" cy="1009.7" rx="5.5" ry="1.8" fill="#f23c3c" opacity="0.52"/><ellipse cx="3.3" cy="1022.6" rx="3.5" ry="1.7" fill="#ffe4e4" opacity="0.42"/><ellipse cx="9.3" cy="1027.6" rx="5.5" ry="1.8" fill="#f23c3c" opacity="0.42"/><ellipse cx="5.5" cy="1038.0" rx="3.3" ry="1.7" fill="#ffe4e4" opacity="0.29"/><ellipse cx="11.5" cy="1043.0" rx="5.5" ry="1.8" fill="#f23c3c" opacity="0.21"/><ellipse cx="5.3" cy="1069.0" rx="3.3" ry="1.7" fill="#ffe4e4" opacity="0.58"/><ellipse cx="11.3" cy="1074.0" rx="5.5" ry="1.8" fill="#f23c3c" opacity="0.52"/><ellipse cx="5.6" cy="1088.0" rx="3.0" ry="1.7" fill="#ffe4e4" opacity="0.52"/><ellipse cx="11.6" cy="1093.0" rx="5.5" ry="1.8" fill="#f23c3c" opacity="0.42"/><ellipse cx="8.3" cy="1103.6" rx="3.9" ry="1.7" fill="#ffe4e4" opacity="0.24"/><ellipse cx="14.3" cy="1108.6" rx="5.5" ry="1.8" fill="#f23c3c" opacity="0.21"/></g><use href="#holes"/><use href="#gaps"/><use href="#buf"/><use href="#shore"/><ellipse cx="78.5" cy="637.0" rx="1.1" ry="3.2" transform="rotate(0 78.5 637.0)" fill="#b52a5e" stroke="none"/><ellipse cx="84.5" cy="654.7" rx="1.3" ry="1.8" transform="rotate(0 84.5 654.7)" fill="#b52a5e" stroke="none"/><ellipse cx="77.0" cy="659.0" rx="0.9" ry="2.6" transform="rotate(0 77.0 659.0)" fill="#b52a5e" stroke="none"/><ellipse cx="88.0" cy="633.0" rx="1.2" ry="1.2" transform="rotate(0 88.0 633.0)" fill="#b52a5e" stroke="none"/><ellipse cx="90.0" cy="649.0" rx="1.0" ry="2.0" transform="rotate(0 90.0 649.0)" fill="#b52a5e" stroke="none"/><ellipse cx="76.5" cy="627.0" rx="0.9" ry="2.2" transform="rotate(0 76.5 627.0)" fill="#b52a5e" stroke="none"/><ellipse cx="82.0" cy="630.0" rx="1.0" ry="1.8" transform="rotate(0 82.0 630.0)" fill="#b52a5e" stroke="none"/><ellipse cx="93.0" cy="635.0" rx="1.0" ry="1.6" transform="rotate(0 93.0 635.0)" fill="#b52a5e" stroke="none"/><ellipse cx="81.5" cy="644.0" rx="1.2" ry="1.6" transform="rotate(0 81.5 644.0)" fill="#b52a5e" stroke="none"/><ellipse cx="87.0" cy="641.0" rx="0.9" ry="1.5" transform="rotate(0 87.0 641.0)" fill="#b52a5e" stroke="none"/><ellipse cx="80.0" cy="663.0" rx="1.0" ry="2.0" transform="rotate(0 80.0 663.0)" fill="#b52a5e" stroke="none"/><ellipse cx="87.5" cy="660.0" rx="1.1" ry="1.8" transform="rotate(0 87.5 660.0)" fill="#b52a5e" stroke="none"/><ellipse cx="92.0" cy="657.0" rx="0.8" ry="1.4" transform="rotate(0 92.0 657.0)" fill="#b52a5e" stroke="none"/><ellipse cx="76.0" cy="649.0" rx="0.8" ry="2.0" transform="rotate(0 76.0 649.0)" fill="#b52a5e" stroke="none"/><ellipse cx="96.0" cy="326.5" rx="0.7" ry="0.7" transform="rotate(0 96.0 326.5)" fill="#b52a5e" stroke="none"/><ellipse cx="92.0" cy="332.0" rx="0.8" ry="0.6" transform="rotate(0 92.0 332.0)" fill="#b52a5e" stroke="none"/><ellipse cx="77.3" cy="48.0" rx="1.0" ry="1.6" transform="rotate(0 77.3 48.0)" fill="#b52a5e" stroke="none"/><ellipse cx="76.2" cy="65.5" rx="0.8" ry="1.2" transform="rotate(0 76.2 65.5)" fill="#b52a5e" stroke="none"/></g>
<text x="95.4" y="40.2" font-size="33.1" font-weight="bold" text-anchor="middle" fill="#000">nzd0345</text>
<text x="953.0" y="40.2" font-size="33.1" font-weight="bold" text-anchor="middle" fill="#000">2020-05-31-21-45-54</text>
<text x="1810.0" y="40.2" font-size="33.1" font-weight="bold" text-anchor="middle" fill="#000">L7</text>
<rect x="1023.2" y="671.2" width="346" height="157" rx="4" fill="#fff" fill-opacity=".8" stroke="#ccc" stroke-width="1.6"/>
<rect x="1030" y="680.3" width="44" height="15.4" fill="#ff8c40"/>
<text x="1090.6" y="695.6" font-size="20.83" fill="#000">sand</text>
<rect x="1030" y="710.8" width="44" height="15.4" fill="#ccffff"/>
<text x="1090.6" y="726.1" font-size="20.83" fill="#000">whitewater</text>
<rect x="1030" y="741.3" width="44" height="15.4" fill="#0d5cff"/>
<text x="1090.6" y="756.6" font-size="20.83" fill="#000">water</text>
<line x1="1030" x2="1074" y1="779.4" y2="779.4" stroke="#000" stroke-width="3.1"/>
<text x="1090.6" y="787.0" font-size="20.83" fill="#000">shoreline</text>
<rect x="1030.7" y="802.6" width="42.6" height="14.4" fill="#993333" stroke="#8b1a1a" stroke-width="1.4"/>
<text x="1090.6" y="817.4" font-size="20.83" fill="#000">reference shoreline buffer</text>
</svg></body></html>
